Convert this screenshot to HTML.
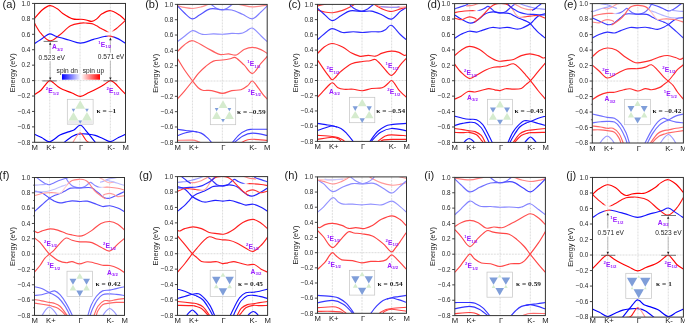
<!DOCTYPE html>
<html><head><meta charset="utf-8"><title>Band structures</title>
<style>html,body{margin:0;padding:0;background:#fff;overflow:hidden;} svg{display:block;will-change:transform;}</style>
</head><body>
<svg width="685" height="325" viewBox="0 0 685 325">
<defs><linearGradient id="cbar" x1="0" y1="0" x2="1" y2="0"><stop offset="0" stop-color="#0000ff"/><stop offset="0.5" stop-color="#ffffff"/><stop offset="1" stop-color="#ff0000"/></linearGradient><clipPath id="cp00"><rect x="34.60" y="3.45" width="90.90" height="138.85"/></clipPath><linearGradient id="g1" gradientUnits="userSpaceOnUse" x1="34.60" y1="0" x2="125.50" y2="0"><stop offset="0.0000" stop-color="#ff1414"/><stop offset="0.7917" stop-color="#ff1414"/><stop offset="0.8250" stop-color="#fff3f3"/><stop offset="0.8467" stop-color="#fff3f3"/><stop offset="0.8800" stop-color="#ff1414"/><stop offset="1.0000" stop-color="#ff1414"/></linearGradient><linearGradient id="g2" gradientUnits="userSpaceOnUse" x1="34.60" y1="0" x2="125.50" y2="0"><stop offset="0.0000" stop-color="#1414ff"/><stop offset="0.7833" stop-color="#1414ff"/><stop offset="0.8167" stop-color="#ff2c2c"/><stop offset="0.8500" stop-color="#ff2c2c"/><stop offset="0.8833" stop-color="#1414ff"/><stop offset="1.0000" stop-color="#1414ff"/></linearGradient><linearGradient id="g3" gradientUnits="userSpaceOnUse" x1="34.60" y1="0" x2="125.50" y2="0"><stop offset="0.0000" stop-color="#ff9595"/><stop offset="0.4833" stop-color="#ff9595"/><stop offset="0.5333" stop-color="#ff1414"/><stop offset="1.0000" stop-color="#ff1414"/></linearGradient><clipPath id="cp01"><rect x="177.50" y="4.40" width="89.70" height="137.90"/></clipPath><linearGradient id="g4" gradientUnits="userSpaceOnUse" x1="177.50" y1="0" x2="267.20" y2="0"><stop offset="0.0000" stop-color="#4d4dff"/><stop offset="0.4167" stop-color="#5656ff"/><stop offset="0.5833" stop-color="#7c7cff"/><stop offset="1.0000" stop-color="#7c7cff"/></linearGradient><clipPath id="cp02"><rect x="317.50" y="4.40" width="89.00" height="137.00"/></clipPath><clipPath id="cp03"><rect x="454.60" y="3.60" width="90.90" height="138.80"/></clipPath><linearGradient id="g5" gradientUnits="userSpaceOnUse" x1="454.60" y1="0" x2="545.50" y2="0"><stop offset="0.0000" stop-color="#ff2c2c"/><stop offset="0.2000" stop-color="#ff2c2c"/><stop offset="0.2417" stop-color="#ffffff"/><stop offset="0.2750" stop-color="#3838ff"/><stop offset="1.0000" stop-color="#3838ff"/></linearGradient><linearGradient id="g6" gradientUnits="userSpaceOnUse" x1="454.60" y1="0" x2="545.50" y2="0"><stop offset="0.0000" stop-color="#ff2c2c"/><stop offset="0.6000" stop-color="#ff2c2c"/><stop offset="0.6500" stop-color="#ffadad"/><stop offset="0.7333" stop-color="#ffadad"/><stop offset="0.7833" stop-color="#ff3838"/><stop offset="1.0000" stop-color="#ff3838"/></linearGradient><clipPath id="cp04"><rect x="592.30" y="3.60" width="91.10" height="139.40"/></clipPath><linearGradient id="g7" gradientUnits="userSpaceOnUse" x1="592.30" y1="0" x2="683.40" y2="0"><stop offset="0.0000" stop-color="#ff7272"/><stop offset="0.2167" stop-color="#ff7272"/><stop offset="0.2500" stop-color="#d9d9ff"/><stop offset="0.3000" stop-color="#6969ff"/><stop offset="1.0000" stop-color="#6969ff"/></linearGradient><linearGradient id="g8" gradientUnits="userSpaceOnUse" x1="592.30" y1="0" x2="683.40" y2="0"><stop offset="0.0000" stop-color="#ff5f5f"/><stop offset="0.6000" stop-color="#ff5f5f"/><stop offset="0.6500" stop-color="#ffc7c7"/><stop offset="0.7167" stop-color="#ffc7c7"/><stop offset="0.7667" stop-color="#ff7c7c"/><stop offset="1.0000" stop-color="#ff7c7c"/></linearGradient><clipPath id="cp10"><rect x="34.50" y="177.50" width="90.00" height="137.90"/></clipPath><linearGradient id="g9" gradientUnits="userSpaceOnUse" x1="34.50" y1="0" x2="124.50" y2="0"><stop offset="0.0000" stop-color="#8787ff"/><stop offset="0.7000" stop-color="#8787ff"/><stop offset="0.7500" stop-color="#e1e1ff"/><stop offset="0.7833" stop-color="#ff8f8f"/><stop offset="1.0000" stop-color="#ff8f8f"/></linearGradient><linearGradient id="g10" gradientUnits="userSpaceOnUse" x1="34.50" y1="0" x2="124.50" y2="0"><stop offset="0.0000" stop-color="#ff9696"/><stop offset="0.2333" stop-color="#ff9696"/><stop offset="0.2833" stop-color="#ffd2d2"/><stop offset="0.3500" stop-color="#ffd2d2"/><stop offset="0.4000" stop-color="#ff8080"/><stop offset="1.0000" stop-color="#ff8080"/></linearGradient><clipPath id="cp11"><rect x="177.50" y="176.60" width="90.10" height="138.80"/></clipPath><linearGradient id="g11" gradientUnits="userSpaceOnUse" x1="177.50" y1="0" x2="267.60" y2="0"><stop offset="0.0000" stop-color="#3838ff"/><stop offset="0.7250" stop-color="#3838ff"/><stop offset="0.7583" stop-color="#ffffff"/><stop offset="0.8000" stop-color="#ff2c2c"/><stop offset="1.0000" stop-color="#ff2c2c"/></linearGradient><linearGradient id="g12" gradientUnits="userSpaceOnUse" x1="177.50" y1="0" x2="267.60" y2="0"><stop offset="0.0000" stop-color="#ff3838"/><stop offset="0.2167" stop-color="#ff3838"/><stop offset="0.2667" stop-color="#ffadad"/><stop offset="0.3500" stop-color="#ffadad"/><stop offset="0.4000" stop-color="#ff2c2c"/><stop offset="1.0000" stop-color="#ff2c2c"/></linearGradient><clipPath id="cp12"><rect x="317.50" y="176.90" width="89.00" height="136.40"/></clipPath><clipPath id="cp13"><rect x="454.80" y="177.40" width="90.60" height="138.20"/></clipPath><linearGradient id="g13" gradientUnits="userSpaceOnUse" x1="454.80" y1="0" x2="545.40" y2="0"><stop offset="0.0000" stop-color="#6e6eff"/><stop offset="0.4167" stop-color="#6e6eff"/><stop offset="0.5833" stop-color="#4545ff"/><stop offset="1.0000" stop-color="#3b3bff"/></linearGradient><clipPath id="cp14"><rect x="592.50" y="177.45" width="90.90" height="139.65"/></clipPath><linearGradient id="g14" gradientUnits="userSpaceOnUse" x1="592.50" y1="0" x2="683.40" y2="0"><stop offset="0.0000" stop-color="#ff1414"/><stop offset="0.1200" stop-color="#ff1414"/><stop offset="0.1533" stop-color="#fff3f3"/><stop offset="0.1750" stop-color="#fff3f3"/><stop offset="0.2083" stop-color="#ff1414"/><stop offset="1.0000" stop-color="#ff1414"/></linearGradient><linearGradient id="g15" gradientUnits="userSpaceOnUse" x1="592.50" y1="0" x2="683.40" y2="0"><stop offset="0.0000" stop-color="#1414ff"/><stop offset="0.1167" stop-color="#1414ff"/><stop offset="0.1500" stop-color="#ff2c2c"/><stop offset="0.1833" stop-color="#ff2c2c"/><stop offset="0.2167" stop-color="#1414ff"/><stop offset="1.0000" stop-color="#1414ff"/></linearGradient><linearGradient id="g16" gradientUnits="userSpaceOnUse" x1="592.50" y1="0" x2="683.40" y2="0"><stop offset="0.0000" stop-color="#ff1414"/><stop offset="0.4667" stop-color="#ff1414"/><stop offset="0.5167" stop-color="#ff9595"/><stop offset="1.0000" stop-color="#ff9595"/></linearGradient></defs>
<line x1="49.75" y1="3.45" x2="49.75" y2="142.30" stroke="#d4d4d4" stroke-width="0.8" stroke-dasharray="2,1"/>
<line x1="80.05" y1="3.45" x2="80.05" y2="142.30" stroke="#d4d4d4" stroke-width="0.8" stroke-dasharray="2,1"/>
<line x1="110.35" y1="3.45" x2="110.35" y2="142.30" stroke="#d4d4d4" stroke-width="0.8" stroke-dasharray="2,1"/>
<line x1="34.60" y1="80.59" x2="125.50" y2="80.59" stroke="#d4d4d4" stroke-width="0.8" stroke-dasharray="2,1"/>
<line x1="192.45" y1="4.40" x2="192.45" y2="142.30" stroke="#d4d4d4" stroke-width="0.8" stroke-dasharray="2,1"/>
<line x1="222.35" y1="4.40" x2="222.35" y2="142.30" stroke="#d4d4d4" stroke-width="0.8" stroke-dasharray="2,1"/>
<line x1="252.25" y1="4.40" x2="252.25" y2="142.30" stroke="#d4d4d4" stroke-width="0.8" stroke-dasharray="2,1"/>
<line x1="177.50" y1="81.01" x2="267.20" y2="81.01" stroke="#d4d4d4" stroke-width="0.8" stroke-dasharray="2,1"/>
<line x1="332.33" y1="4.40" x2="332.33" y2="141.40" stroke="#d4d4d4" stroke-width="0.8" stroke-dasharray="2,1"/>
<line x1="362.00" y1="4.40" x2="362.00" y2="141.40" stroke="#d4d4d4" stroke-width="0.8" stroke-dasharray="2,1"/>
<line x1="391.67" y1="4.40" x2="391.67" y2="141.40" stroke="#d4d4d4" stroke-width="0.8" stroke-dasharray="2,1"/>
<line x1="317.50" y1="80.51" x2="406.50" y2="80.51" stroke="#d4d4d4" stroke-width="0.8" stroke-dasharray="2,1"/>
<line x1="469.75" y1="3.60" x2="469.75" y2="142.40" stroke="#d4d4d4" stroke-width="0.8" stroke-dasharray="2,1"/>
<line x1="500.05" y1="3.60" x2="500.05" y2="142.40" stroke="#d4d4d4" stroke-width="0.8" stroke-dasharray="2,1"/>
<line x1="530.35" y1="3.60" x2="530.35" y2="142.40" stroke="#d4d4d4" stroke-width="0.8" stroke-dasharray="2,1"/>
<line x1="454.60" y1="80.71" x2="545.50" y2="80.71" stroke="#d4d4d4" stroke-width="0.8" stroke-dasharray="2,1"/>
<line x1="607.48" y1="3.60" x2="607.48" y2="143.00" stroke="#d4d4d4" stroke-width="0.8" stroke-dasharray="2,1"/>
<line x1="637.85" y1="3.60" x2="637.85" y2="143.00" stroke="#d4d4d4" stroke-width="0.8" stroke-dasharray="2,1"/>
<line x1="668.22" y1="3.60" x2="668.22" y2="143.00" stroke="#d4d4d4" stroke-width="0.8" stroke-dasharray="2,1"/>
<line x1="592.30" y1="81.04" x2="683.40" y2="81.04" stroke="#d4d4d4" stroke-width="0.8" stroke-dasharray="2,1"/>
<line x1="49.50" y1="177.50" x2="49.50" y2="315.40" stroke="#d4d4d4" stroke-width="0.8" stroke-dasharray="2,1"/>
<line x1="79.50" y1="177.50" x2="79.50" y2="315.40" stroke="#d4d4d4" stroke-width="0.8" stroke-dasharray="2,1"/>
<line x1="109.50" y1="177.50" x2="109.50" y2="315.40" stroke="#d4d4d4" stroke-width="0.8" stroke-dasharray="2,1"/>
<line x1="34.50" y1="254.11" x2="124.50" y2="254.11" stroke="#d4d4d4" stroke-width="0.8" stroke-dasharray="2,1"/>
<line x1="192.52" y1="176.60" x2="192.52" y2="315.40" stroke="#d4d4d4" stroke-width="0.8" stroke-dasharray="2,1"/>
<line x1="222.55" y1="176.60" x2="222.55" y2="315.40" stroke="#d4d4d4" stroke-width="0.8" stroke-dasharray="2,1"/>
<line x1="252.58" y1="176.60" x2="252.58" y2="315.40" stroke="#d4d4d4" stroke-width="0.8" stroke-dasharray="2,1"/>
<line x1="177.50" y1="253.71" x2="267.60" y2="253.71" stroke="#d4d4d4" stroke-width="0.8" stroke-dasharray="2,1"/>
<line x1="332.33" y1="176.90" x2="332.33" y2="313.30" stroke="#d4d4d4" stroke-width="0.8" stroke-dasharray="2,1"/>
<line x1="362.00" y1="176.90" x2="362.00" y2="313.30" stroke="#d4d4d4" stroke-width="0.8" stroke-dasharray="2,1"/>
<line x1="391.67" y1="176.90" x2="391.67" y2="313.30" stroke="#d4d4d4" stroke-width="0.8" stroke-dasharray="2,1"/>
<line x1="317.50" y1="252.68" x2="406.50" y2="252.68" stroke="#d4d4d4" stroke-width="0.8" stroke-dasharray="2,1"/>
<line x1="469.90" y1="177.40" x2="469.90" y2="315.60" stroke="#d4d4d4" stroke-width="0.8" stroke-dasharray="2,1"/>
<line x1="500.10" y1="177.40" x2="500.10" y2="315.60" stroke="#d4d4d4" stroke-width="0.8" stroke-dasharray="2,1"/>
<line x1="530.30" y1="177.40" x2="530.30" y2="315.60" stroke="#d4d4d4" stroke-width="0.8" stroke-dasharray="2,1"/>
<line x1="454.80" y1="254.18" x2="545.40" y2="254.18" stroke="#d4d4d4" stroke-width="0.8" stroke-dasharray="2,1"/>
<line x1="607.65" y1="177.45" x2="607.65" y2="317.10" stroke="#d4d4d4" stroke-width="0.8" stroke-dasharray="2,1"/>
<line x1="637.95" y1="177.45" x2="637.95" y2="317.10" stroke="#d4d4d4" stroke-width="0.8" stroke-dasharray="2,1"/>
<line x1="668.25" y1="177.45" x2="668.25" y2="317.10" stroke="#d4d4d4" stroke-width="0.8" stroke-dasharray="2,1"/>
<line x1="592.50" y1="255.03" x2="683.40" y2="255.03" stroke="#d4d4d4" stroke-width="0.8" stroke-dasharray="2,1"/>
<g clip-path="url(#cp00)">
<path d="M34.60,18.41C35.86,17.01 39.60,12.13 42.18,10.01C44.75,7.89 47.53,5.88 50.05,5.69C52.58,5.49 55.20,7.56 57.33,8.85C59.45,10.14 60.20,11.73 62.78,13.40C65.35,15.07 69.75,17.90 72.78,18.88C75.81,19.85 78.74,19.08 80.96,19.26C83.18,19.44 84.29,19.60 86.11,19.96C87.93,20.32 90.10,21.60 91.87,21.42C93.63,21.24 95.02,20.14 96.72,18.88C98.41,17.62 99.75,15.23 102.02,13.86C104.29,12.50 107.45,10.51 110.35,10.70C113.25,10.89 116.92,13.40 119.44,15.02C121.96,16.64 124.49,19.52 125.50,20.42" fill="none" stroke="#ff0000" stroke-width="1.15" stroke-linecap="round" stroke-linejoin="round"/>
<path d="M34.60,23.43C35.66,25.10 38.39,30.55 40.96,33.46C43.54,36.36 46.95,40.59 50.05,40.86C53.16,41.13 56.19,37.58 59.60,35.08C63.01,32.57 66.95,27.81 70.51,25.82C74.07,23.83 78.36,23.58 80.96,23.12C83.56,22.66 84.29,22.95 86.11,23.04C87.93,23.13 90.10,23.20 91.87,23.66C93.63,24.12 95.15,25.01 96.72,25.82C98.28,26.63 99.11,27.45 101.26,28.52C103.41,29.59 107.07,32.22 109.59,32.22C112.12,32.22 113.76,30.49 116.41,28.52C119.06,26.55 123.98,21.77 125.50,20.42" fill="none" stroke="url(#g1)" stroke-width="1.15" stroke-linecap="round" stroke-linejoin="round"/>
<path d="M34.60,43.49C35.94,42.60 40.13,39.77 42.63,38.16C45.13,36.56 47.28,34.11 49.60,33.84C51.92,33.57 53.36,35.53 56.57,36.54C59.77,37.56 64.85,38.84 68.84,39.94C72.83,41.03 76.39,43.19 80.50,43.10C84.62,43.01 89.54,40.49 93.53,39.40C97.52,38.30 101.64,37.10 104.44,36.54C107.24,35.99 108.03,35.69 110.35,36.08C112.67,36.47 115.85,37.62 118.38,38.86C120.90,40.09 124.31,42.71 125.50,43.49" fill="none" stroke="url(#g2)" stroke-width="1.15" stroke-linecap="round" stroke-linejoin="round"/>
<path d="M34.60,94.55C35.66,93.83 39.07,91.98 40.96,90.23C42.86,88.48 44.50,85.67 45.96,84.06C47.43,82.45 48.49,80.78 49.75,80.59C51.01,80.40 52.15,81.87 53.54,82.90C54.93,83.93 56.54,85.67 58.08,86.76C59.62,87.85 60.46,88.42 62.78,89.46C65.10,90.50 69.07,91.85 72.02,93.01C74.97,94.17 77.68,96.48 80.50,96.40C83.33,96.33 86.03,93.96 88.99,92.55C91.94,91.13 95.68,89.27 98.23,87.92C100.78,86.57 102.27,85.67 104.29,84.45C106.31,83.22 108.58,80.78 110.35,80.59C112.12,80.40 113.38,82.07 114.90,83.29C116.41,84.51 117.67,86.12 119.44,87.92C121.21,89.72 124.49,93.06 125.50,94.09" fill="none" stroke="#ff0000" stroke-width="1.15" stroke-linecap="round" stroke-linejoin="round"/>
<path d="M34.60,134.35C35.76,134.87 39.04,136.22 41.57,137.44C44.09,138.66 46.69,142.08 49.75,141.68C52.81,141.28 56.79,136.68 59.90,135.05C63.01,133.42 66.04,132.73 68.38,131.89C70.73,131.04 72.35,130.92 73.99,129.96C75.63,128.99 77.22,126.89 78.23,126.10C79.24,125.32 79.44,125.28 80.05,125.25C80.66,125.23 80.76,124.89 81.87,125.95C82.98,127.00 84.97,129.47 86.72,131.58C88.46,133.69 90.78,136.68 92.32,138.60C93.86,140.51 95.35,142.33 95.96,143.07" fill="none" stroke="#0000ff" stroke-width="1.15" stroke-linecap="round" stroke-linejoin="round"/>
<path d="M63.39,143.07C64.90,141.91 69.70,137.67 72.48,136.13C75.25,134.59 77.27,134.14 80.05,133.81C82.83,133.49 86.62,133.94 89.14,134.20C91.66,134.46 92.93,134.65 95.20,135.36C97.47,136.06 100.25,137.39 102.78,138.44C105.30,139.50 107.72,141.85 110.35,141.68C112.98,141.52 116.01,138.66 118.53,137.44C121.06,136.22 124.34,134.87 125.50,134.35" fill="none" stroke="#0000ff" stroke-width="1.15" stroke-linecap="round" stroke-linejoin="round"/>
<path d="M71.72,144.61C72.15,143.84 73.41,141.46 74.29,139.99C75.18,138.51 76.24,136.84 77.02,135.74C77.80,134.65 78.48,133.90 78.99,133.43C79.49,132.95 79.70,132.89 80.05,132.89C80.40,132.89 80.61,132.95 81.11,133.43C81.62,133.90 82.30,134.65 83.08,135.74C83.86,136.84 84.92,138.89 85.81,139.99C86.69,141.08 87.32,141.85 88.38,142.30C89.44,142.75 91.03,142.56 92.17,142.69C93.31,142.81 94.70,143.01 95.20,143.07" fill="none" stroke="url(#g3)" stroke-width="1.15" stroke-linecap="round" stroke-linejoin="round"/>
</g>
<line x1="50.20" y1="43.50" x2="50.20" y2="53.80" stroke="#9a9a9a" stroke-width="0.6"/>
<line x1="50.20" y1="61.00" x2="50.20" y2="78.50" stroke="#9a9a9a" stroke-width="0.6"/>
<path d="M50.20,42.30 L49.00,44.86 L51.40,44.86Z" fill="#222"/>
<path d="M50.20,80.00 L49.00,77.44 L51.40,77.44Z" fill="#222"/>
<line x1="43.60" y1="41.40" x2="57.60" y2="41.40" stroke="#555" stroke-width="0.8"/>
<line x1="42.30" y1="80.90" x2="56.70" y2="80.90" stroke="#555" stroke-width="0.8"/>
<text x="52.00" y="49.20" font-size="6.70" font-weight="bold" fill="#9a1cff" font-family="'Liberation Sans', sans-serif">A</text>
<text x="56.94" y="50.80" font-size="4.29" font-weight="bold" fill="#9a1cff" font-family="'Liberation Sans', sans-serif">3/2</text>
<rect x="38.2" y="54.0" width="27.6" height="7.2" fill="#fff"/>
<text x="38.60" y="60.00" font-size="6.6" text-anchor="start" fill="#262626" font-family="'Liberation Sans', sans-serif" >0.523 eV</text>
<line x1="110.40" y1="39.50" x2="110.40" y2="53.20" stroke="#9a9a9a" stroke-width="0.6"/>
<line x1="110.40" y1="60.80" x2="110.40" y2="78.50" stroke="#9a9a9a" stroke-width="0.6"/>
<path d="M110.40,37.60 L109.20,40.16 L111.60,40.16Z" fill="#222"/>
<path d="M110.40,80.00 L109.20,77.44 L111.60,77.44Z" fill="#222"/>
<line x1="103.40" y1="80.80" x2="117.40" y2="80.80" stroke="#555" stroke-width="0.8"/>
<text x="98.20" y="43.80" font-size="4.29" font-weight="bold" fill="#9a1cff" font-family="'Liberation Sans', sans-serif">1</text>
<text x="100.68" y="46.80" font-size="6.70" font-weight="bold" fill="#9a1cff" font-family="'Liberation Sans', sans-serif">E</text>
<text x="105.25" y="48.40" font-size="4.29" font-weight="bold" fill="#9a1cff" font-family="'Liberation Sans', sans-serif">1/2</text>
<rect x="97.4" y="52.6" width="26.6" height="7.2" fill="#fff"/>
<text x="97.80" y="58.60" font-size="6.6" text-anchor="start" fill="#262626" font-family="'Liberation Sans', sans-serif" >0.571 eV</text>
<text x="56.60" y="72.60" font-size="6.6" text-anchor="start" fill="#262626" font-family="'Liberation Sans', sans-serif" >spin dn</text>
<text x="82.80" y="72.60" font-size="6.6" text-anchor="start" fill="#262626" font-family="'Liberation Sans', sans-serif" >spin up</text>
<rect x="62" y="74.2" width="38" height="5.5" fill="url(#cbar)"/>
<text x="45.80" y="90.40" font-size="4.29" font-weight="bold" fill="#9a1cff" font-family="'Liberation Sans', sans-serif">2</text>
<text x="48.28" y="93.40" font-size="6.70" font-weight="bold" fill="#9a1cff" font-family="'Liberation Sans', sans-serif">E</text>
<text x="52.85" y="95.00" font-size="4.29" font-weight="bold" fill="#9a1cff" font-family="'Liberation Sans', sans-serif">1/2</text>
<text x="106.40" y="90.40" font-size="4.29" font-weight="bold" fill="#9a1cff" font-family="'Liberation Sans', sans-serif">2</text>
<text x="108.88" y="93.40" font-size="6.70" font-weight="bold" fill="#9a1cff" font-family="'Liberation Sans', sans-serif">E</text>
<text x="113.45" y="95.00" font-size="4.29" font-weight="bold" fill="#9a1cff" font-family="'Liberation Sans', sans-serif">1/2</text>
<rect x="67.30" y="99.30" width="25.80" height="24.90" fill="#fff" stroke="#c4c4c4" stroke-width="0.7"/>
<rect x="67.65" y="120.60" width="25.10" height="3.25" fill="#ececec"/>
<path d="M82.00,120.56L86.95,111.99L91.90,120.56Z" fill="#d5ebce"/>
<path d="M85.15,108.87L75.25,108.87L80.20,100.30Z" fill="#d5ebce"/>
<path d="M73.45,111.99L78.40,120.56L68.50,120.56Z" fill="#d5ebce"/>
<path d="M78.40,120.56L82.00,120.56L80.20,123.68Z" fill="#7f9ed9"/>
<path d="M86.95,111.99L85.15,108.87L88.75,108.87Z" fill="#7f9ed9"/>
<path d="M75.25,108.87L73.45,111.99L71.65,108.87Z" fill="#7f9ed9"/>
<text transform="translate(96.60,112.70) scale(1.13,1)" font-size="6.5" font-weight="bold" letter-spacing="0.05" fill="#1e1e1e" font-family="'Liberation Serif', serif">κ = –1</text>
<g clip-path="url(#cp01)">
<path d="M176.00,5.55C176.35,5.60 176.73,5.55 178.10,5.86C179.47,6.16 181.81,6.95 184.23,7.39C186.64,7.82 189.78,8.54 192.60,8.46C195.42,8.38 198.68,7.54 201.12,6.93C203.56,6.32 205.71,5.33 207.25,4.78C208.80,4.23 209.87,3.83 210.39,3.63" fill="none" stroke="#ff8e8e" stroke-width="1.15" stroke-linecap="round" stroke-linejoin="round"/>
<path d="M238.79,4.40C239.42,4.51 240.27,4.67 242.53,5.09C244.80,5.51 248.31,6.93 252.40,6.93C256.49,6.93 264.33,5.51 267.05,5.09C269.77,4.67 268.42,4.51 268.69,4.40" fill="none" stroke="#ff8e8e" stroke-width="1.15" stroke-linecap="round" stroke-linejoin="round"/>
<path d="M208.90,2.87C209.37,3.19 210.49,3.90 211.74,4.78C212.98,5.66 214.70,7.29 216.37,8.15C218.04,9.02 219.96,9.99 221.75,9.99C223.55,9.99 225.46,9.02 227.13,8.15C228.80,7.29 230.57,5.66 231.77,4.78C232.96,3.90 233.89,3.19 234.31,2.87" fill="none" stroke="#7c7cff" stroke-width="1.15" stroke-linecap="round" stroke-linejoin="round"/>
<path d="M177.50,5.93C178.62,7.07 181.79,10.59 184.23,12.75C186.67,14.91 189.61,18.50 192.15,18.88C194.69,19.26 196.46,16.71 199.48,15.05C202.49,13.39 206.40,9.81 210.24,8.92C214.08,8.03 218.91,9.51 222.50,9.69C226.09,9.86 228.43,9.23 231.77,9.99C235.11,10.76 239.09,12.80 242.53,14.28C245.97,15.76 249.33,19.26 252.40,18.88C255.46,18.50 258.45,14.14 260.92,11.98C263.39,9.83 266.15,6.94 267.20,5.93" fill="none" stroke="url(#g4)" stroke-width="1.15" stroke-linecap="round" stroke-linejoin="round"/>
<path d="M177.50,41.63C178.62,40.78 181.71,38.33 184.23,36.50C186.74,34.67 189.98,31.18 192.60,30.68C195.22,30.18 198.01,32.87 199.93,33.51C201.84,34.15 201.87,34.44 204.11,34.51C206.35,34.57 210.32,33.95 213.38,33.90C216.44,33.84 219.43,34.28 222.50,34.20C225.56,34.13 228.70,33.56 231.77,33.44C234.83,33.31 238.47,33.81 240.89,33.44C243.30,33.07 244.35,32.11 246.27,31.21C248.19,30.32 249.96,27.32 252.40,28.07C254.84,28.83 258.45,33.47 260.92,35.73C263.39,37.99 266.15,40.65 267.20,41.63" fill="none" stroke="#8e8eff" stroke-width="1.15" stroke-linecap="round" stroke-linejoin="round"/>
<path d="M177.50,51.52C178.62,50.43 181.71,46.80 184.23,45.00C186.74,43.20 189.04,40.33 192.60,40.71C196.16,41.10 201.37,45.11 205.61,47.30C209.84,49.50 215.20,52.69 218.01,53.89C220.83,55.09 220.73,54.50 222.50,54.50C224.27,54.50 226.31,53.81 228.63,53.89C230.95,53.97 233.84,55.68 236.40,54.96C238.97,54.25 241.36,50.88 244.03,49.60C246.69,48.32 249.58,47.30 252.40,47.30C255.22,47.30 258.45,48.58 260.92,49.60C263.39,50.62 266.15,52.79 267.20,53.43" fill="none" stroke="#ff5f5f" stroke-width="1.15" stroke-linecap="round" stroke-linejoin="round"/>
<path d="M177.50,99.01C178.62,97.74 181.71,94.35 184.23,91.35C186.74,88.35 190.23,84.01 192.60,81.01C194.97,78.01 196.26,75.78 198.43,73.35C200.60,70.92 203.11,68.50 205.61,66.46C208.10,64.41 210.56,62.16 213.38,61.09C216.20,60.02 219.68,60.40 222.50,60.02C225.32,59.64 228.11,59.19 230.27,58.79C232.44,58.40 233.21,56.62 235.51,57.64C237.80,58.67 241.21,62.31 244.03,64.92C246.84,67.54 249.58,73.61 252.40,73.35C255.22,73.09 258.45,66.20 260.92,63.39C263.39,60.58 266.15,57.64 267.20,56.50" fill="none" stroke="#ff5656" stroke-width="1.15" stroke-linecap="round" stroke-linejoin="round"/>
<path d="M177.50,58.49C178.62,60.33 181.71,65.77 184.23,69.52C186.74,73.27 190.31,78.01 192.60,81.01C194.89,84.01 196.31,85.98 197.98,87.52C199.65,89.07 200.32,89.77 202.62,90.28C204.91,90.79 208.42,90.08 211.74,90.59C215.05,91.10 219.16,93.35 222.50,93.35C225.84,93.35 228.70,91.17 231.77,90.59C234.83,90.00 238.22,90.65 240.89,89.82C243.55,88.99 245.85,87.08 247.76,85.61C249.68,84.14 250.66,80.63 252.40,81.01C254.14,81.39 256.51,85.74 258.23,87.91C259.95,90.08 261.22,92.18 262.71,94.03C264.21,95.89 266.45,98.18 267.20,99.01" fill="none" stroke="#ff5656" stroke-width="1.15" stroke-linecap="round" stroke-linejoin="round"/>
<path d="M177.50,129.28C178.87,129.48 183.21,130.17 185.72,130.50C188.24,130.83 190.03,130.83 192.60,131.27C195.17,131.70 198.68,132.03 201.12,133.11C203.56,134.18 205.33,135.92 207.25,137.70C209.17,139.49 211.74,142.81 212.63,143.83" fill="none" stroke="#4343ff" stroke-width="1.15" stroke-linecap="round" stroke-linejoin="round"/>
<path d="M177.50,135.71C178.87,135.23 183.21,133.52 185.72,132.80C188.24,132.09 190.73,131.56 192.60,131.42C194.47,131.28 196.21,131.87 196.94,131.96" fill="none" stroke="#4343ff" stroke-width="1.15" stroke-linecap="round" stroke-linejoin="round"/>
<path d="M231.32,143.83C232.67,142.30 236.78,136.94 239.39,134.64C242.01,132.34 244.85,130.94 247.02,130.04C249.19,129.15 249.04,129.40 252.40,129.28C255.76,129.15 264.73,129.28 267.20,129.28" fill="none" stroke="#4343ff" stroke-width="1.15" stroke-linecap="round" stroke-linejoin="round"/>
<path d="M232.81,143.83C234.43,142.56 239.27,137.96 242.53,136.17C245.80,134.38 248.29,133.23 252.40,133.11C256.51,132.98 264.73,135.02 267.20,135.41" fill="none" stroke="#4343ff" stroke-width="1.15" stroke-linecap="round" stroke-linejoin="round"/>
<path d="M177.50,140.31C180.02,140.28 189.19,139.95 192.60,140.15C196.01,140.36 196.51,141.05 197.98,141.53C199.45,142.02 200.85,142.81 201.42,143.07" fill="none" stroke="#ff7c7c" stroke-width="1.15" stroke-linecap="round" stroke-linejoin="round"/>
<path d="M240.29,143.07C241.41,142.56 245.00,140.64 247.02,140.00C249.04,139.36 249.04,139.18 252.40,139.24C255.76,139.29 264.73,140.13 267.20,140.31" fill="none" stroke="#ff4d4d" stroke-width="1.15" stroke-linecap="round" stroke-linejoin="round"/>
</g>
<text x="247.30" y="63.40" font-size="4.29" font-weight="bold" fill="#9a1cff" font-family="'Liberation Sans', sans-serif">1</text>
<text x="249.78" y="66.40" font-size="6.70" font-weight="bold" fill="#9a1cff" font-family="'Liberation Sans', sans-serif">E</text>
<text x="254.35" y="68.00" font-size="4.29" font-weight="bold" fill="#9a1cff" font-family="'Liberation Sans', sans-serif">1/2</text>
<text x="248.00" y="91.60" font-size="4.29" font-weight="bold" fill="#9a1cff" font-family="'Liberation Sans', sans-serif">2</text>
<text x="250.48" y="94.60" font-size="6.70" font-weight="bold" fill="#9a1cff" font-family="'Liberation Sans', sans-serif">E</text>
<text x="255.05" y="96.20" font-size="4.29" font-weight="bold" fill="#9a1cff" font-family="'Liberation Sans', sans-serif">1/2</text>
<rect x="210.30" y="98.10" width="25.40" height="26.60" fill="#fff" stroke="#c4c4c4" stroke-width="0.7"/>
<path d="M224.90,119.09L229.38,111.34L233.85,119.09Z" fill="#d5ebce"/>
<path d="M227.47,108.05L218.53,108.05L223.00,100.30Z" fill="#d5ebce"/>
<path d="M216.62,111.34L221.10,119.09L212.15,119.09Z" fill="#d5ebce"/>
<path d="M221.10,119.09L224.90,119.09L223.00,122.38Z" fill="#7f9ed9"/>
<path d="M229.38,111.34L227.47,108.05L231.28,108.05Z" fill="#7f9ed9"/>
<path d="M218.53,108.05L216.62,111.34L214.72,108.05Z" fill="#7f9ed9"/>
<text transform="translate(236.90,113.60) scale(1.13,1)" font-size="6.5" font-weight="bold" letter-spacing="0.05" fill="#1e1e1e" font-family="'Liberation Serif', serif">κ = –0.59</text>
<g clip-path="url(#cp02)">
<path d="M317.50,9.96C318.61,10.29 321.65,11.48 324.18,11.93C326.70,12.39 329.56,12.95 332.63,12.70C335.70,12.44 339.53,11.43 342.57,10.41C345.61,9.40 348.85,7.67 350.88,6.61C352.90,5.54 354.09,4.45 354.73,4.02" fill="none" stroke="#ff3838" stroke-width="1.15" stroke-linecap="round" stroke-linejoin="round"/>
<path d="M314.53,6.30C315.08,6.23 316.44,6.10 317.80,5.85C319.16,5.59 321.26,5.15 322.69,4.78C324.13,4.41 325.78,3.83 326.40,3.64" fill="none" stroke="#ff3838" stroke-width="1.15" stroke-linecap="round" stroke-linejoin="round"/>
<path d="M317.50,8.13C318.61,9.14 321.73,12.14 324.18,14.22C326.62,16.30 329.39,20.36 332.19,20.61C334.98,20.87 337.95,17.36 340.94,15.74C343.93,14.12 346.57,11.58 350.13,10.87C353.69,10.16 358.74,11.43 362.30,11.48C365.86,11.53 368.18,10.59 371.49,11.17C374.81,11.76 378.86,13.66 382.17,14.98C385.49,16.30 388.30,19.72 391.37,19.09C394.44,18.46 398.05,13.13 400.57,11.17C403.09,9.22 405.51,8.00 406.50,7.37" fill="none" stroke="#2020ff" stroke-width="1.15" stroke-linecap="round" stroke-linejoin="round"/>
<path d="M349.39,3.64C349.76,4.13 350.36,5.55 351.62,6.61C352.88,7.66 355.30,9.20 356.96,9.96C358.61,10.72 359.77,11.35 361.56,11.17C363.34,11.00 365.73,9.96 367.64,8.89C369.54,7.83 371.81,5.66 372.98,4.78C374.14,3.91 374.34,3.83 374.61,3.64" fill="none" stroke="#2c2cff" stroke-width="1.15" stroke-linecap="round" stroke-linejoin="round"/>
<path d="M373.12,3.64C373.50,3.88 373.84,4.21 375.35,5.09C376.86,5.96 379.50,7.83 382.17,8.89C384.84,9.96 388.30,11.48 391.37,11.48C394.44,11.48 398.05,9.58 400.57,8.89C403.09,8.21 405.51,7.62 406.50,7.37" fill="none" stroke="#ff2c2c" stroke-width="1.15" stroke-linecap="round" stroke-linejoin="round"/>
<path d="M376.09,4.40C376.59,4.72 376.51,5.81 379.06,6.30C381.60,6.80 386.80,7.27 391.37,7.37C395.94,7.47 403.98,6.99 406.50,6.91" fill="none" stroke="#ff9595" stroke-width="1.15" stroke-linecap="round" stroke-linejoin="round"/>
<path d="M381.28,6.68C382.27,6.75 384.99,6.94 387.22,7.06C389.44,7.19 392.66,7.51 394.63,7.44C396.61,7.38 398.34,6.81 399.08,6.68" fill="none" stroke="#9595ff" stroke-width="1.15" stroke-linecap="round" stroke-linejoin="round"/>
<path d="M317.50,39.87C318.61,38.89 321.73,35.87 324.18,34.01C326.62,32.14 329.12,28.93 332.19,28.68C335.25,28.43 339.06,31.98 342.57,32.48C346.08,32.99 349.96,31.72 353.25,31.72C356.54,31.72 359.26,32.48 362.30,32.48C365.34,32.48 368.43,31.85 371.49,31.72C374.56,31.60 378.32,32.09 380.69,31.72C383.06,31.36 383.95,30.58 385.73,29.52C387.51,28.45 388.90,24.46 391.37,25.33C393.84,26.21 398.05,32.35 400.57,34.77C403.09,37.19 405.51,39.02 406.50,39.87" fill="none" stroke="#2c2cff" stroke-width="1.15" stroke-linecap="round" stroke-linejoin="round"/>
<path d="M317.50,53.57C318.61,52.48 321.73,48.70 324.18,47.02C326.62,45.35 329.12,43.52 332.19,43.52C335.25,43.52 339.33,45.42 342.57,47.02C345.81,48.62 348.82,51.59 351.62,53.11C354.41,54.63 357.55,55.65 359.33,56.16C361.11,56.66 360.79,56.28 362.30,56.16C363.80,56.03 366.20,55.39 368.38,55.39C370.55,55.39 373.05,56.54 375.35,56.16C377.65,55.77 379.50,53.95 382.17,53.11C384.84,52.27 388.58,51.26 391.37,51.13C394.16,51.01 396.78,51.64 398.94,52.35C401.09,53.06 403.01,55.01 404.27,55.39C405.54,55.77 406.13,54.76 406.50,54.63" fill="none" stroke="#ff2020" stroke-width="1.15" stroke-linecap="round" stroke-linejoin="round"/>
<path d="M317.50,59.96C318.61,61.61 322.32,67.19 324.18,69.86C326.03,72.52 327.29,74.30 328.62,75.94C329.96,77.59 330.95,79.62 332.19,79.75C333.42,79.88 334.58,78.10 336.04,76.71C337.50,75.31 338.34,73.53 340.94,71.38C343.53,69.22 348.06,65.42 351.62,63.77C355.18,62.12 359.23,61.99 362.30,61.48C365.36,60.98 367.83,61.04 370.01,60.72C372.19,60.41 373.32,58.69 375.35,59.58C377.38,60.47 380.07,63.83 382.17,66.05C384.27,68.27 386.43,71.33 387.96,72.90C389.49,74.47 390.13,75.61 391.37,75.49C392.61,75.36 393.84,73.97 395.38,72.14C396.91,70.31 398.71,66.86 400.57,64.53C402.42,62.19 405.51,59.20 406.50,58.13" fill="none" stroke="#ff2020" stroke-width="1.15" stroke-linecap="round" stroke-linejoin="round"/>
<path d="M317.50,97.33C318.61,96.11 322.20,92.13 324.18,90.03C326.15,87.92 328.03,85.92 329.37,84.70C330.70,83.48 331.32,82.78 332.19,82.72C333.05,82.65 333.59,83.48 334.56,84.32C335.52,85.15 336.39,86.92 337.97,87.74C339.55,88.57 341.51,89.01 344.05,89.26C346.60,89.52 350.21,89.01 353.25,89.26C356.29,89.52 359.26,90.91 362.30,90.79C365.34,90.66 368.18,89.01 371.49,88.50C374.81,88.00 379.43,88.57 382.17,87.74C384.92,86.92 386.43,84.76 387.96,83.56C389.49,82.35 390.26,80.51 391.37,80.51C392.48,80.51 393.37,81.97 394.63,83.56C395.89,85.14 396.96,87.73 398.94,90.03C400.91,92.32 405.24,96.11 406.50,97.33" fill="none" stroke="#ff2020" stroke-width="1.15" stroke-linecap="round" stroke-linejoin="round"/>
<path d="M317.50,123.44C318.86,123.64 323.21,124.28 325.66,124.66C328.11,125.04 329.64,125.09 332.19,125.72C334.73,126.36 338.46,127.12 340.94,128.46C343.41,129.81 345.11,131.81 347.02,133.79C348.92,135.77 351.22,138.81 352.36,140.33C353.50,141.86 353.59,142.49 353.84,142.92" fill="none" stroke="#1414ff" stroke-width="1.15" stroke-linecap="round" stroke-linejoin="round"/>
<path d="M317.50,130.44C318.86,129.98 323.21,128.44 325.66,127.70C328.11,126.96 330.33,126.15 332.19,126.03C334.04,125.90 336.02,126.79 336.78,126.94" fill="none" stroke="#1414ff" stroke-width="1.15" stroke-linecap="round" stroke-linejoin="round"/>
<path d="M369.42,142.92C369.64,142.49 369.39,142.24 370.75,140.33C372.11,138.43 375.15,133.86 377.57,131.51C380.00,129.15 382.99,127.32 385.29,126.18C387.59,125.04 387.83,125.11 391.37,124.66C394.91,124.20 403.98,123.64 406.50,123.44" fill="none" stroke="#1414ff" stroke-width="1.15" stroke-linecap="round" stroke-linejoin="round"/>
<path d="M370.90,142.92C371.12,142.49 370.60,142.11 372.24,140.33C373.87,138.56 377.50,134.25 380.69,132.27C383.88,130.29 387.07,128.71 391.37,128.46C395.67,128.21 403.98,130.36 406.50,130.74" fill="none" stroke="#1414ff" stroke-width="1.15" stroke-linecap="round" stroke-linejoin="round"/>
<path d="M317.50,135.31C319.95,135.51 328.77,136.15 332.19,136.53C335.60,136.91 336.12,136.96 337.97,137.59C339.82,138.23 342.15,139.57 343.31,140.33C344.47,141.10 344.67,141.86 344.94,142.16" fill="none" stroke="#ff2020" stroke-width="1.15" stroke-linecap="round" stroke-linejoin="round"/>
<path d="M317.50,139.42C319.95,139.07 328.53,137.29 332.19,137.29C335.84,137.29 337.95,138.61 339.45,139.42C340.96,140.23 340.94,141.70 341.23,142.16" fill="none" stroke="#ff2020" stroke-width="1.15" stroke-linecap="round" stroke-linejoin="round"/>
<path d="M377.57,142.16C377.82,141.86 377.77,141.35 379.06,140.33C380.34,139.32 383.24,136.99 385.29,136.07C387.34,135.16 387.83,134.91 391.37,134.85C394.91,134.80 403.98,135.62 406.50,135.77" fill="none" stroke="#ff2020" stroke-width="1.15" stroke-linecap="round" stroke-linejoin="round"/>
<path d="M380.54,142.16C380.81,141.86 380.37,140.79 382.17,140.33C383.98,139.88 387.32,139.57 391.37,139.42C395.42,139.27 403.98,139.42 406.50,139.42" fill="none" stroke="#ff2020" stroke-width="1.15" stroke-linecap="round" stroke-linejoin="round"/>
</g>
<text x="326.50" y="69.40" font-size="4.29" font-weight="bold" fill="#9a1cff" font-family="'Liberation Sans', sans-serif">2</text>
<text x="328.98" y="72.40" font-size="6.70" font-weight="bold" fill="#9a1cff" font-family="'Liberation Sans', sans-serif">E</text>
<text x="333.55" y="74.00" font-size="4.29" font-weight="bold" fill="#9a1cff" font-family="'Liberation Sans', sans-serif">1/2</text>
<text x="385.40" y="65.40" font-size="4.29" font-weight="bold" fill="#9a1cff" font-family="'Liberation Sans', sans-serif">1</text>
<text x="387.88" y="68.40" font-size="6.70" font-weight="bold" fill="#9a1cff" font-family="'Liberation Sans', sans-serif">E</text>
<text x="392.45" y="70.00" font-size="4.29" font-weight="bold" fill="#9a1cff" font-family="'Liberation Sans', sans-serif">1/2</text>
<text x="329.00" y="93.80" font-size="6.70" font-weight="bold" fill="#9a1cff" font-family="'Liberation Sans', sans-serif">A</text>
<text x="333.94" y="95.40" font-size="4.29" font-weight="bold" fill="#9a1cff" font-family="'Liberation Sans', sans-serif">3/2</text>
<text x="387.30" y="91.00" font-size="4.29" font-weight="bold" fill="#9a1cff" font-family="'Liberation Sans', sans-serif">2</text>
<text x="389.78" y="94.00" font-size="6.70" font-weight="bold" fill="#9a1cff" font-family="'Liberation Sans', sans-serif">E</text>
<text x="394.35" y="95.60" font-size="4.29" font-weight="bold" fill="#9a1cff" font-family="'Liberation Sans', sans-serif">1/2</text>
<rect x="349.60" y="97.30" width="25.20" height="25.40" fill="#fff" stroke="#c4c4c4" stroke-width="0.7"/>
<path d="M364.85,118.37L369.18,110.88L373.50,118.37Z" fill="#d5ebce"/>
<path d="M366.53,106.29L357.88,106.29L362.20,98.80Z" fill="#d5ebce"/>
<path d="M355.23,110.88L359.55,118.37L350.90,118.37Z" fill="#d5ebce"/>
<path d="M359.55,118.37L364.85,118.37L362.20,122.96Z" fill="#7f9ed9"/>
<path d="M369.18,110.88L366.53,106.29L371.83,106.29Z" fill="#7f9ed9"/>
<path d="M357.88,106.29L355.23,110.88L352.58,106.29Z" fill="#7f9ed9"/>
<text transform="translate(376.30,113.30) scale(1.13,1)" font-size="6.5" font-weight="bold" letter-spacing="0.05" fill="#1e1e1e" font-family="'Liberation Serif', serif">κ = –0.54</text>
<g clip-path="url(#cp03)">
<path d="M454.60,8.92C455.69,8.54 459.25,7.22 461.11,6.61C462.98,5.99 464.65,5.68 465.81,5.22C466.97,4.76 467.40,4.26 468.08,3.83C468.77,3.41 469.60,2.87 469.90,2.67" fill="none" stroke="#4343ff" stroke-width="1.15" stroke-linecap="round" stroke-linejoin="round"/>
<path d="M466.72,5.99C467.33,5.94 469.27,5.81 470.36,5.68C471.44,5.55 472.30,5.45 473.23,5.22C474.17,4.99 474.90,4.64 475.96,4.29C477.02,3.95 478.99,3.33 479.60,3.14" fill="none" stroke="#ff7e7e" stroke-width="1.15" stroke-linecap="round" stroke-linejoin="round"/>
<path d="M454.60,12.62C455.69,12.44 458.64,11.85 461.11,11.54C463.59,11.23 467.12,10.93 469.45,10.77C471.77,10.62 473.36,10.69 475.05,10.62C476.74,10.54 478.06,10.67 479.60,10.31C481.14,9.95 482.91,9.11 484.29,8.46C485.68,7.80 486.84,6.41 487.93,6.38C489.02,6.34 489.72,7.37 490.81,8.23C491.89,9.09 492.93,10.73 494.44,11.54C495.96,12.35 498.03,13.06 499.90,13.08C501.77,13.11 504.06,12.47 505.66,11.70C507.25,10.93 508.36,9.38 509.44,8.46C510.53,7.53 511.26,6.84 512.17,6.14C513.08,5.45 513.96,4.82 514.90,4.29C515.83,3.77 517.30,3.20 517.78,2.98" fill="none" stroke="url(#g5)" stroke-width="1.15" stroke-linecap="round" stroke-linejoin="round"/>
<path d="M454.60,14.94C455.69,15.63 458.64,17.75 461.11,19.10C463.59,20.45 467.12,22.57 469.45,23.03C471.77,23.49 473.36,22.61 475.05,21.88C476.74,21.14 478.06,19.87 479.60,18.64C481.14,17.40 482.75,15.50 484.29,14.47C485.83,13.44 487.30,12.90 488.84,12.47C490.38,12.03 491.69,11.81 493.54,11.85C495.38,11.89 497.88,12.49 499.90,12.70C501.92,12.90 503.91,12.90 505.66,13.08C507.40,13.26 508.96,13.32 510.35,13.78C511.74,14.24 512.75,15.21 513.99,15.86C515.23,16.52 516.39,17.09 517.78,17.71C519.16,18.33 520.78,18.92 522.32,19.56C523.86,20.20 525.68,20.86 527.02,21.57C528.36,22.27 529.11,22.69 530.35,23.80C531.59,24.92 533.13,26.84 534.44,28.28C535.75,29.71 536.38,30.76 538.23,32.44C540.07,34.12 544.29,37.39 545.50,38.38" fill="none" stroke="#2020ff" stroke-width="1.15" stroke-linecap="round" stroke-linejoin="round"/>
<path d="M454.60,38.38C455.69,37.70 458.69,35.49 461.11,34.29C463.54,33.10 466.57,31.57 469.14,31.21C471.72,30.85 474.30,32.31 476.57,32.13C478.84,31.95 480.20,30.90 482.78,30.13C485.35,29.36 489.19,27.84 492.02,27.50C494.85,27.17 497.17,28.15 499.75,28.12C502.32,28.10 504.39,27.20 507.47,27.35C510.55,27.50 515.43,29.09 518.23,29.05C521.03,29.01 522.27,27.99 524.29,27.12C526.31,26.24 528.66,25.06 530.35,23.80C532.04,22.54 533.15,20.81 534.44,19.56C535.73,18.32 536.86,17.17 538.08,16.32C539.29,15.48 540.48,14.94 541.71,14.47C542.95,14.01 544.87,13.70 545.50,13.55" fill="none" stroke="#2020ff" stroke-width="1.15" stroke-linecap="round" stroke-linejoin="round"/>
<path d="M454.60,18.17C455.69,18.43 459.25,19.74 461.11,19.72C462.98,19.69 464.42,18.48 465.81,18.02C467.20,17.56 468.06,16.97 469.45,16.94C470.84,16.91 473.03,17.52 474.14,17.87C475.25,18.21 475.78,18.83 476.11,19.02" fill="none" stroke="#ff3838" stroke-width="1.15" stroke-linecap="round" stroke-linejoin="round"/>
<path d="M474.30,22.11C475.18,21.45 477.78,19.75 479.60,18.17C481.42,16.59 483.33,14.50 485.20,12.62C487.07,10.75 489.12,8.33 490.81,6.92C492.50,5.50 493.84,4.73 495.35,4.14C496.87,3.55 498.18,3.42 499.90,3.37C501.62,3.32 504.06,3.45 505.66,3.83C507.25,4.22 508.36,4.91 509.44,5.68C510.53,6.45 511.11,6.99 512.17,8.46C513.23,9.92 514.54,13.01 515.81,14.47C517.07,15.94 517.88,16.91 519.75,17.25C521.61,17.58 524.74,16.73 527.02,16.48C529.29,16.22 531.54,15.86 533.38,15.71C535.22,15.55 536.69,15.37 538.08,15.55C539.47,15.73 540.48,16.35 541.71,16.79C542.95,17.22 544.87,17.94 545.50,18.17" fill="none" stroke="url(#g6)" stroke-width="1.15" stroke-linecap="round" stroke-linejoin="round"/>
<path d="M513.99,3.83C514.62,4.14 516.39,4.99 517.78,5.68C519.16,6.38 520.78,7.38 522.32,8.00C523.86,8.61 525.63,9.10 527.02,9.38C528.41,9.67 529.59,9.65 530.65,9.69C531.71,9.73 532.93,9.63 533.38,9.61" fill="none" stroke="#ff9595" stroke-width="1.15" stroke-linecap="round" stroke-linejoin="round"/>
<path d="M519.59,3.37C520.35,3.68 522.60,4.68 524.14,5.22C525.68,5.76 527.45,6.22 528.84,6.61C530.22,6.99 531.23,7.22 532.47,7.53C533.71,7.84 534.87,8.23 536.26,8.46C537.65,8.69 539.26,8.77 540.80,8.92C542.34,9.07 544.72,9.31 545.50,9.38" fill="none" stroke="#9595ff" stroke-width="1.15" stroke-linecap="round" stroke-linejoin="round"/>
<path d="M508.38,4.76C508.86,5.22 510.02,6.61 511.26,7.53C512.50,8.46 514.27,9.46 515.81,10.31C517.35,11.16 518.79,12.01 520.50,12.62C522.22,13.24 524.42,13.73 526.11,14.01C527.80,14.29 528.96,14.24 530.65,14.32C532.34,14.40 534.42,14.37 536.26,14.47C538.10,14.58 540.17,14.86 541.71,14.94C543.25,15.01 544.87,14.94 545.50,14.94" fill="none" stroke="#2c2cff" stroke-width="1.15" stroke-linecap="round" stroke-linejoin="round"/>
<path d="M532.62,10.15C533.08,9.87 534.44,9.13 535.35,8.46C536.26,7.79 537.02,6.99 538.08,6.14C539.14,5.30 540.78,4.11 541.71,3.37C542.65,2.62 543.35,1.95 543.68,1.67" fill="none" stroke="#2c2cff" stroke-width="1.15" stroke-linecap="round" stroke-linejoin="round"/>
<path d="M454.60,55.65C455.69,54.75 458.69,51.79 461.11,50.25C463.54,48.71 466.06,46.53 469.14,46.40C472.22,46.27 476.32,47.81 479.60,49.48C482.88,51.15 485.76,54.49 488.84,56.42C491.92,58.35 495.25,60.35 498.08,61.05C500.91,61.74 503.23,60.84 505.81,60.59C508.38,60.33 510.96,60.33 513.53,59.51C516.11,58.68 518.56,56.60 521.26,55.65C523.96,54.70 526.92,53.80 529.74,53.80C532.57,53.80 536.03,54.96 538.23,55.65C540.42,56.34 541.71,57.71 542.92,57.96C544.14,58.22 545.07,57.32 545.50,57.19" fill="none" stroke="#ff2020" stroke-width="1.15" stroke-linecap="round" stroke-linejoin="round"/>
<path d="M454.60,64.21C455.69,65.55 458.69,69.86 461.11,72.23C463.54,74.59 466.57,77.88 469.14,78.40C471.72,78.91 473.79,76.73 476.57,75.31C479.35,73.90 482.98,71.25 485.81,69.92C488.64,68.58 491.21,67.81 493.54,67.29C495.86,66.78 497.70,67.04 499.75,66.83C501.79,66.63 503.51,66.57 505.81,66.06C508.10,65.55 511.21,63.36 513.53,63.75C515.86,64.13 517.67,66.45 519.75,68.37C521.82,70.30 524.16,73.26 525.96,75.31C527.75,77.37 528.46,78.14 530.50,80.71C532.55,83.28 535.73,87.65 538.23,90.74C540.73,93.82 544.29,97.80 545.50,99.22" fill="none" stroke="#ff2020" stroke-width="1.15" stroke-linecap="round" stroke-linejoin="round"/>
<path d="M454.60,99.22C455.69,98.70 458.87,97.42 461.11,96.13C463.36,94.85 465.76,92.20 468.08,91.51C470.41,90.81 472.60,92.23 475.05,91.97C477.50,91.71 480.48,90.52 482.78,89.96C485.08,89.41 486.84,88.68 488.84,88.65C490.83,88.63 492.88,89.49 494.75,89.81C496.62,90.13 498.21,90.76 500.05,90.58C501.89,90.40 503.56,88.96 505.81,88.73C508.05,88.50 510.96,89.24 513.53,89.19C516.11,89.14 519.19,89.19 521.26,88.42C523.33,87.65 524.42,85.85 525.96,84.57C527.50,83.28 528.46,82.90 530.50,80.71C532.55,78.53 535.73,74.41 538.23,71.46C540.73,68.50 544.29,64.39 545.50,62.98" fill="none" stroke="#ff2020" stroke-width="1.15" stroke-linecap="round" stroke-linejoin="round"/>
<path d="M454.60,116.18C455.94,116.52 460.21,117.67 462.63,118.19C465.05,118.70 466.82,119.01 469.14,119.27C471.47,119.52 474.30,118.83 476.57,119.73C478.84,120.63 480.86,122.30 482.78,124.66C484.70,127.03 486.54,131.04 488.08,133.92C489.62,136.80 491.24,140.27 492.02,141.94C492.80,143.61 492.65,143.61 492.78,143.94" fill="none" stroke="#1414ff" stroke-width="1.15" stroke-linecap="round" stroke-linejoin="round"/>
<path d="M454.60,125.44C455.94,125.10 460.21,123.94 462.63,123.43C465.05,122.92 467.07,122.45 469.14,122.35C471.21,122.25 473.03,121.91 475.05,122.81C477.07,123.71 479.47,125.64 481.26,127.75C483.06,129.86 484.55,133.10 485.81,135.46C487.07,137.82 488.23,140.52 488.84,141.94C489.44,143.35 489.34,143.61 489.44,143.94" fill="none" stroke="#1414ff" stroke-width="1.15" stroke-linecap="round" stroke-linejoin="round"/>
<path d="M454.60,128.52C455.94,128.70 460.21,129.21 462.63,129.60C465.05,129.99 467.07,130.50 469.14,130.83C471.21,131.17 473.03,130.83 475.05,131.60C477.07,132.38 479.60,133.74 481.26,135.46C482.93,137.18 484.32,140.52 485.05,141.94C485.78,143.35 485.56,143.61 485.66,143.94" fill="none" stroke="#ff2020" stroke-width="1.15" stroke-linecap="round" stroke-linejoin="round"/>
<path d="M454.60,132.38C455.94,132.43 460.21,132.68 462.63,132.68C465.05,132.68 466.82,132.04 469.14,132.38C471.47,132.71 474.55,133.40 476.57,134.69C478.59,135.97 480.23,138.88 481.26,140.09C482.30,141.29 482.43,141.29 482.78,141.94C483.13,142.58 483.28,143.61 483.38,143.94" fill="none" stroke="#ff2020" stroke-width="1.15" stroke-linecap="round" stroke-linejoin="round"/>
<path d="M462.93,143.94C463.44,143.33 464.93,141.14 465.96,140.24C467.00,139.34 468.08,138.54 469.14,138.54C470.20,138.54 471.27,139.34 472.33,140.24C473.39,141.14 474.98,143.33 475.51,143.94" fill="none" stroke="#1414ff" stroke-width="1.15" stroke-linecap="round" stroke-linejoin="round"/>
<path d="M507.62,143.94C507.73,143.61 507.37,143.87 508.23,141.94C509.09,140.01 511.11,135.13 512.78,132.38C514.44,129.63 516.31,127.36 518.23,125.44C520.15,123.51 522.24,121.50 524.29,120.81C526.34,120.11 528.18,120.83 530.50,121.27C532.82,121.71 535.73,122.74 538.23,123.43C540.73,124.12 544.29,125.10 545.50,125.44" fill="none" stroke="#1414ff" stroke-width="1.15" stroke-linecap="round" stroke-linejoin="round"/>
<path d="M509.59,143.94C509.70,143.61 509.42,143.48 510.20,141.94C510.98,140.40 512.70,137.18 514.29,134.69C515.88,132.20 517.80,128.91 519.75,126.98C521.69,125.05 524.16,124.02 525.96,123.12C527.75,122.22 528.46,122.40 530.50,121.58C532.55,120.76 535.73,119.09 538.23,118.19C540.73,117.29 544.29,116.52 545.50,116.18" fill="none" stroke="#1414ff" stroke-width="1.15" stroke-linecap="round" stroke-linejoin="round"/>
<path d="M512.93,143.94C513.03,143.61 512.40,143.61 513.53,141.94C514.67,140.27 517.67,135.77 519.75,133.92C521.82,132.07 524.16,131.48 525.96,130.83C527.75,130.19 527.24,130.45 530.50,130.06C533.76,129.68 543.00,128.78 545.50,128.52" fill="none" stroke="#ff2020" stroke-width="1.15" stroke-linecap="round" stroke-linejoin="round"/>
<path d="M514.44,143.94C514.54,143.61 513.91,143.35 515.05,141.94C516.18,140.52 519.19,136.93 521.26,135.46C523.33,133.99 525.93,133.61 527.47,133.15C529.01,132.68 527.50,132.81 530.50,132.68C533.51,132.56 543.00,132.43 545.50,132.38" fill="none" stroke="#ff2020" stroke-width="1.15" stroke-linecap="round" stroke-linejoin="round"/>
<path d="M523.53,143.94C524.16,143.20 526.16,140.63 527.32,139.47C528.48,138.31 529.44,137.00 530.50,137.00C531.56,137.00 532.52,138.31 533.68,139.47C534.84,140.63 536.84,143.20 537.47,143.94" fill="none" stroke="#1414ff" stroke-width="1.15" stroke-linecap="round" stroke-linejoin="round"/>
</g>
<text x="464.00" y="72.40" font-size="4.29" font-weight="bold" fill="#9a1cff" font-family="'Liberation Sans', sans-serif">2</text>
<text x="466.48" y="75.40" font-size="6.70" font-weight="bold" fill="#9a1cff" font-family="'Liberation Sans', sans-serif">E</text>
<text x="471.05" y="77.00" font-size="4.29" font-weight="bold" fill="#9a1cff" font-family="'Liberation Sans', sans-serif">1/2</text>
<text x="467.00" y="99.60" font-size="6.70" font-weight="bold" fill="#9a1cff" font-family="'Liberation Sans', sans-serif">A</text>
<text x="471.94" y="101.20" font-size="4.29" font-weight="bold" fill="#9a1cff" font-family="'Liberation Sans', sans-serif">3/2</text>
<rect x="487.60" y="99.30" width="24.80" height="25.50" fill="#fff" stroke="#c4c4c4" stroke-width="0.7"/>
<path d="M503.00,119.64L507.02,112.67L511.05,119.64Z" fill="#d5ebce"/>
<path d="M504.02,107.47L495.98,107.47L500.00,100.50Z" fill="#d5ebce"/>
<path d="M492.98,112.67L497.00,119.64L488.95,119.64Z" fill="#d5ebce"/>
<path d="M497.00,119.64L503.00,119.64L500.00,124.84Z" fill="#7f9ed9"/>
<path d="M507.02,112.67L504.02,107.47L510.02,107.47Z" fill="#7f9ed9"/>
<path d="M495.98,107.47L492.98,112.67L489.98,107.47Z" fill="#7f9ed9"/>
<text transform="translate(514.50,113.10) scale(1.13,1)" font-size="6.5" font-weight="bold" letter-spacing="0.05" fill="#1e1e1e" font-family="'Liberation Serif', serif">κ = –0.45</text>
<g clip-path="url(#cp04)">
<path d="M596.85,2.83C597.23,2.92 597.99,3.12 599.13,3.37C600.27,3.61 602.30,4.06 603.69,4.30C605.08,4.53 606.24,4.45 607.48,4.76C608.72,5.07 610.06,5.69 611.13,6.16C612.19,6.62 612.95,7.20 613.86,7.55C614.77,7.90 616.14,8.13 616.59,8.25" fill="none" stroke="#a1a1ff" stroke-width="1.15" stroke-linecap="round" stroke-linejoin="round"/>
<path d="M602.93,8.25C603.23,8.29 603.99,8.36 604.75,8.48C605.51,8.60 606.42,9.10 607.48,8.94C608.55,8.79 609.89,8.17 611.13,7.55C612.37,6.93 613.84,5.85 614.92,5.23C616.01,4.61 616.75,4.21 617.66,3.83C618.57,3.46 619.93,3.12 620.39,2.98" fill="none" stroke="#ffa1a1" stroke-width="1.15" stroke-linecap="round" stroke-linejoin="round"/>
<path d="M592.30,11.73C593.44,11.34 597.23,10.03 599.13,9.41C601.03,8.79 602.30,8.40 603.69,8.01C605.08,7.63 606.34,7.37 607.48,7.09C608.62,6.80 610.01,6.44 610.52,6.31" fill="none" stroke="#ababff" stroke-width="1.15" stroke-linecap="round" stroke-linejoin="round"/>
<path d="M592.30,16.38C593.44,16.07 596.60,15.01 599.13,14.52C601.66,14.03 605.33,13.62 607.48,13.44C609.63,13.25 610.34,13.44 612.04,13.44C613.73,13.44 615.96,13.72 617.66,13.44C619.35,13.15 620.74,12.56 622.21,11.73C623.68,10.91 625.37,8.79 626.46,8.48C627.55,8.17 627.75,9.18 628.74,9.87C629.73,10.57 630.89,11.96 632.38,12.66C633.88,13.36 635.80,14.03 637.70,14.05C639.60,14.08 641.97,13.67 643.77,12.82C645.57,11.96 647.19,10.36 648.48,8.94C649.77,7.52 650.76,5.32 651.51,4.30C652.27,3.28 652.78,3.07 653.03,2.83" fill="none" stroke="url(#g7)" stroke-width="1.15" stroke-linecap="round" stroke-linejoin="round"/>
<path d="M592.30,17.77C593.44,18.31 596.60,19.89 599.13,21.02C601.66,22.16 605.18,24.12 607.48,24.59C609.79,25.05 611.25,24.56 612.95,23.81C614.64,23.06 616.11,21.33 617.66,20.10C619.20,18.86 621.00,17.35 622.21,16.38C623.43,15.41 623.86,14.73 624.94,14.29C626.03,13.85 626.61,13.76 628.74,13.75C630.87,13.73 634.69,14.11 637.70,14.21C640.71,14.31 644.51,13.95 646.81,14.36C649.11,14.78 649.72,15.78 651.51,16.69C653.31,17.59 655.54,18.88 657.59,19.79C659.64,20.69 662.04,21.32 663.81,22.11C665.58,22.90 666.17,22.96 668.22,24.51C670.27,26.06 673.58,29.14 676.11,31.40C678.64,33.66 682.19,36.95 683.40,38.06" fill="none" stroke="#3838ff" stroke-width="1.15" stroke-linecap="round" stroke-linejoin="round"/>
<path d="M592.30,38.06C593.44,37.47 596.65,35.48 599.13,34.50C601.61,33.52 604.62,32.44 607.18,32.18C609.74,31.92 612.22,33.21 614.47,32.95C616.72,32.69 618.11,31.53 620.69,30.63C623.27,29.72 627.12,28.00 629.95,27.53C632.79,27.07 635.14,27.89 637.70,27.84C640.25,27.79 642.99,27.14 645.29,27.22C647.59,27.30 649.47,27.96 651.51,28.30C653.56,28.65 655.54,29.49 657.59,29.31C659.64,29.13 662.04,28.02 663.81,27.22C665.58,26.42 666.17,25.88 668.22,24.51C670.27,23.14 673.58,20.19 676.11,19.01C678.64,17.84 682.19,17.72 683.40,17.46" fill="none" stroke="#2c2cff" stroke-width="1.15" stroke-linecap="round" stroke-linejoin="round"/>
<path d="M592.30,21.95C593.44,22.11 597.23,23.12 599.13,22.88C601.03,22.65 602.30,21.10 603.69,20.56C605.08,20.02 606.09,19.63 607.48,19.63C608.88,19.63 611.03,20.26 612.04,20.56C613.05,20.86 613.30,21.27 613.56,21.41" fill="none" stroke="#ff8a8a" stroke-width="1.15" stroke-linecap="round" stroke-linejoin="round"/>
<path d="M612.04,24.90C612.97,24.25 615.96,22.29 617.66,21.02C619.35,19.76 621.00,18.47 622.21,17.31C623.43,16.15 624.01,15.29 624.94,14.05C625.88,12.82 626.89,11.03 627.83,9.87C628.77,8.71 629.50,7.79 630.56,7.09C631.62,6.38 633.02,5.90 634.21,5.61C635.40,5.33 635.85,5.21 637.70,5.38C639.55,5.55 643.24,5.77 645.29,6.62C647.34,7.47 648.45,8.81 650.00,10.49C651.54,12.17 653.29,15.19 654.55,16.69C655.82,18.19 656.04,19.09 657.59,19.48C659.13,19.86 661.99,19.09 663.81,19.01C665.64,18.93 666.47,18.88 668.52,19.01C670.57,19.14 673.63,19.27 676.11,19.79C678.59,20.30 682.19,21.72 683.40,22.11" fill="none" stroke="url(#g8)" stroke-width="1.15" stroke-linecap="round" stroke-linejoin="round"/>
<path d="M649.24,3.60C649.62,3.72 649.84,3.75 651.51,4.30C653.19,4.84 656.98,5.96 659.26,6.85C661.54,7.74 663.56,8.96 665.18,9.64C666.80,10.32 667.71,10.96 668.98,10.96C670.24,10.96 671.38,10.35 672.77,9.64C674.16,8.93 675.73,7.85 677.33,6.70C678.92,5.55 681.20,3.65 682.34,2.75C683.48,1.84 683.86,1.52 684.16,1.28" fill="none" stroke="#5656ff" stroke-width="1.15" stroke-linecap="round" stroke-linejoin="round"/>
<path d="M651.51,10.96C652.02,11.14 652.75,11.34 654.55,12.04C656.35,12.74 659.71,14.24 662.30,15.14C664.88,16.04 666.52,16.95 670.04,17.46C673.56,17.98 681.17,18.11 683.40,18.24" fill="none" stroke="#b4b4ff" stroke-width="1.15" stroke-linecap="round" stroke-linejoin="round"/>
<path d="M671.25,10.42C672.27,10.51 675.30,10.80 677.33,10.96C679.35,11.11 682.39,11.28 683.40,11.34" fill="none" stroke="#a1a1ff" stroke-width="1.15" stroke-linecap="round" stroke-linejoin="round"/>
<path d="M592.30,56.73C593.44,55.75 596.65,52.29 599.13,50.84C601.61,49.40 604.35,48.18 607.18,48.05C610.01,47.92 613.13,48.57 616.14,50.07C619.15,51.56 622.44,55.10 625.25,57.04C628.06,58.97 630.92,60.70 632.99,61.68C635.07,62.66 635.65,62.92 637.70,62.92C639.75,62.92 642.99,62.15 645.29,61.68C647.59,61.22 649.19,60.91 651.51,60.13C653.84,59.36 656.58,57.81 659.26,57.04C661.94,56.26 664.80,55.36 667.61,55.49C670.42,55.62 674.04,57.17 676.11,57.81C678.19,58.46 678.85,59.36 680.06,59.36C681.27,59.36 682.84,58.07 683.40,57.81" fill="none" stroke="#ff2c2c" stroke-width="1.15" stroke-linecap="round" stroke-linejoin="round"/>
<path d="M592.30,65.09C593.44,66.07 596.65,68.83 599.13,70.98C601.61,73.12 604.35,77.43 607.18,77.95C610.01,78.46 613.13,75.49 616.14,74.07C619.15,72.65 622.44,70.33 625.25,69.43C628.06,68.52 630.92,68.78 632.99,68.65C635.07,68.52 635.65,68.91 637.70,68.65C639.75,68.40 642.99,67.75 645.29,67.10C647.59,66.46 649.47,64.26 651.51,64.78C653.56,65.30 655.54,68.14 657.59,70.20C659.64,72.27 662.04,75.37 663.81,77.17C665.58,78.98 666.67,79.69 668.22,81.04C669.76,82.40 671.51,83.43 673.08,85.30C674.64,87.18 675.91,89.95 677.63,92.27C679.35,94.60 682.44,98.08 683.40,99.24" fill="none" stroke="#ff2c2c" stroke-width="1.15" stroke-linecap="round" stroke-linejoin="round"/>
<path d="M592.30,99.71C593.44,98.99 596.65,96.56 599.13,95.37C601.61,94.18 604.62,93.10 607.18,92.58C609.74,92.07 611.71,92.75 614.47,92.27C617.23,91.80 621.15,90.30 623.73,89.72C626.31,89.14 627.60,88.58 629.95,88.79C632.31,89.00 635.27,90.98 637.85,90.96C640.43,90.93 643.16,88.84 645.44,88.63C647.72,88.43 649.21,89.89 651.51,89.72C653.82,89.55 657.21,88.49 659.26,87.63C661.31,86.76 662.32,85.63 663.81,84.53C665.31,83.43 666.67,82.59 668.22,81.04C669.76,79.50 671.51,77.17 673.08,75.24C674.64,73.30 675.91,71.17 677.63,69.43C679.35,67.69 682.44,65.56 683.40,64.78" fill="none" stroke="#ff2c2c" stroke-width="1.15" stroke-linecap="round" stroke-linejoin="round"/>
<path d="M592.30,114.04C593.69,114.35 598.17,115.33 600.65,115.89C603.13,116.46 604.88,117.06 607.18,117.44C609.48,117.83 612.22,117.19 614.47,118.22C616.72,119.25 618.74,121.19 620.69,123.64C622.64,126.09 624.74,129.78 626.16,132.93C627.58,136.08 628.59,140.60 629.20,142.54C629.80,144.47 629.70,144.21 629.80,144.55" fill="none" stroke="#6f6fff" stroke-width="1.15" stroke-linecap="round" stroke-linejoin="round"/>
<path d="M592.30,122.86C593.69,122.68 598.17,122.04 600.65,121.78C603.13,121.52 604.88,121.26 607.18,121.32C609.48,121.37 612.34,121.06 614.47,122.09C616.59,123.12 618.26,125.19 619.93,127.51C621.60,129.83 623.32,133.53 624.49,136.03C625.65,138.53 626.44,141.12 626.92,142.54C627.40,143.96 627.30,144.21 627.37,144.55" fill="none" stroke="#6f6fff" stroke-width="1.15" stroke-linecap="round" stroke-linejoin="round"/>
<path d="M592.30,125.96C593.69,126.14 598.17,126.66 600.65,127.05C603.13,127.43 605.13,128.08 607.18,128.29C609.23,128.49 610.95,127.38 612.95,128.29C614.95,129.19 617.50,131.33 619.17,133.71C620.84,136.08 622.24,140.73 622.97,142.54C623.70,144.34 623.48,144.21 623.58,144.55" fill="none" stroke="#ff6767" stroke-width="1.15" stroke-linecap="round" stroke-linejoin="round"/>
<path d="M592.30,129.83C593.69,129.83 598.17,129.71 600.65,129.83C603.13,129.96 604.88,130.22 607.18,130.61C609.48,131.00 612.47,130.87 614.47,132.16C616.47,133.45 618.14,136.62 619.17,138.35C620.21,140.08 620.36,141.50 620.69,142.54C621.02,143.57 621.07,144.21 621.15,144.55" fill="none" stroke="#ff6767" stroke-width="1.15" stroke-linecap="round" stroke-linejoin="round"/>
<path d="M599.13,144.55C599.77,143.65 601.59,140.55 602.93,139.13C604.27,137.71 605.76,136.03 607.18,136.03C608.60,136.03 610.12,137.71 611.43,139.13C612.75,140.55 614.47,143.65 615.07,144.55" fill="none" stroke="#9a9aff" stroke-width="1.15" stroke-linecap="round" stroke-linejoin="round"/>
<path d="M644.68,144.55C644.78,144.21 644.15,144.86 645.29,142.54C646.43,140.21 649.47,134.02 651.51,130.61C653.56,127.20 655.67,124.16 657.59,122.09C659.51,120.02 661.31,118.60 663.05,118.22C664.80,117.83 665.89,119.12 668.06,119.77C670.24,120.41 673.56,121.57 676.11,122.09C678.67,122.61 682.19,122.74 683.40,122.86" fill="none" stroke="#6f6fff" stroke-width="1.15" stroke-linecap="round" stroke-linejoin="round"/>
<path d="M647.11,144.55C647.21,144.21 646.73,144.47 647.72,142.54C648.71,140.60 651.11,135.82 653.03,132.93C654.96,130.04 657.21,127.12 659.26,125.19C661.31,123.25 663.86,122.14 665.33,121.32C666.80,120.49 666.27,121.13 668.06,120.23C669.86,119.33 673.56,116.93 676.11,115.89C678.67,114.86 682.19,114.35 683.40,114.04" fill="none" stroke="#6f6fff" stroke-width="1.15" stroke-linecap="round" stroke-linejoin="round"/>
<path d="M650.15,144.55C650.25,144.21 649.52,144.34 650.76,142.54C652.00,140.73 655.41,135.69 657.59,133.71C659.76,131.72 661.99,131.25 663.81,130.61C665.64,129.96 666.47,130.22 668.52,129.83C670.57,129.45 673.63,128.75 676.11,128.29C678.59,127.82 682.19,127.25 683.40,127.05" fill="none" stroke="#ff6767" stroke-width="1.15" stroke-linecap="round" stroke-linejoin="round"/>
<path d="M651.67,144.55C651.77,144.21 651.01,143.96 652.27,142.54C653.54,141.12 657.08,137.50 659.26,136.03C661.43,134.56 663.79,134.22 665.33,133.71C666.88,133.19 665.51,133.45 668.52,132.93C671.53,132.42 680.92,131.00 683.40,130.61" fill="none" stroke="#ff6767" stroke-width="1.15" stroke-linecap="round" stroke-linejoin="round"/>
<path d="M659.41,144.55C660.12,143.52 662.14,140.03 663.66,138.35C665.18,136.68 667.00,134.48 668.52,134.48C670.04,134.48 671.43,136.68 672.77,138.35C674.11,140.03 675.93,143.52 676.57,144.55" fill="none" stroke="#9a9aff" stroke-width="1.15" stroke-linecap="round" stroke-linejoin="round"/>
</g>
<text x="602.30" y="71.00" font-size="4.29" font-weight="bold" fill="#9a1cff" font-family="'Liberation Sans', sans-serif">2</text>
<text x="604.78" y="74.00" font-size="6.70" font-weight="bold" fill="#9a1cff" font-family="'Liberation Sans', sans-serif">E</text>
<text x="609.35" y="75.60" font-size="4.29" font-weight="bold" fill="#9a1cff" font-family="'Liberation Sans', sans-serif">1/2</text>
<text x="662.30" y="68.60" font-size="4.29" font-weight="bold" fill="#9a1cff" font-family="'Liberation Sans', sans-serif">2</text>
<text x="664.78" y="71.60" font-size="6.70" font-weight="bold" fill="#9a1cff" font-family="'Liberation Sans', sans-serif">E</text>
<text x="669.35" y="73.20" font-size="4.29" font-weight="bold" fill="#9a1cff" font-family="'Liberation Sans', sans-serif">1/2</text>
<text x="604.60" y="101.20" font-size="6.70" font-weight="bold" fill="#9a1cff" font-family="'Liberation Sans', sans-serif">A</text>
<text x="609.54" y="102.80" font-size="4.29" font-weight="bold" fill="#9a1cff" font-family="'Liberation Sans', sans-serif">3/2</text>
<text x="663.80" y="93.00" font-size="4.29" font-weight="bold" fill="#9a1cff" font-family="'Liberation Sans', sans-serif">1</text>
<text x="666.28" y="96.00" font-size="6.70" font-weight="bold" fill="#9a1cff" font-family="'Liberation Sans', sans-serif">E</text>
<text x="670.85" y="97.60" font-size="4.29" font-weight="bold" fill="#9a1cff" font-family="'Liberation Sans', sans-serif">1/2</text>
<rect x="624.60" y="99.30" width="26.00" height="25.40" fill="#fff" stroke="#c4c4c4" stroke-width="0.7"/>
<path d="M641.05,117.49L644.20,112.03L647.35,117.49Z" fill="#d5ebce"/>
<path d="M640.75,106.06L634.45,106.06L637.60,100.60Z" fill="#d5ebce"/>
<path d="M631.00,112.03L634.15,117.49L627.85,117.49Z" fill="#d5ebce"/>
<path d="M634.15,117.49L641.05,117.49L637.60,123.46Z" fill="#7f9ed9"/>
<path d="M644.20,112.03L640.75,106.06L647.65,106.06Z" fill="#7f9ed9"/>
<path d="M634.45,106.06L631.00,112.03L627.55,106.06Z" fill="#7f9ed9"/>
<text transform="translate(652.50,113.10) scale(1.13,1)" font-size="6.5" font-weight="bold" letter-spacing="0.05" fill="#1e1e1e" font-family="'Liberation Serif', serif">κ = –0.42</text>
<g clip-path="url(#cp10)">
<path d="M100.50,182.10C100.95,181.98 102.30,181.75 103.20,181.41C104.10,181.06 104.85,180.49 105.90,180.03C106.95,179.57 108.28,178.96 109.50,178.65C110.72,178.34 111.88,178.42 113.25,178.19C114.62,177.96 116.62,177.51 117.75,177.27C118.88,177.03 119.62,176.82 120.00,176.73" fill="none" stroke="#b4b4ff" stroke-width="1.15" stroke-linecap="round" stroke-linejoin="round"/>
<path d="M96.75,176.89C97.20,177.03 98.55,177.36 99.45,177.73C100.35,178.10 101.07,178.50 102.15,179.11C103.22,179.72 104.68,180.79 105.90,181.41C107.12,182.02 108.45,182.63 109.50,182.79C110.55,182.94 111.45,182.44 112.20,182.33C112.95,182.21 113.70,182.13 114.00,182.10" fill="none" stroke="#ffb4b4" stroke-width="1.15" stroke-linecap="round" stroke-linejoin="round"/>
<path d="M106.50,180.18C107.00,180.31 108.38,180.67 109.50,180.95C110.62,181.23 111.88,181.48 113.25,181.87C114.62,182.25 115.88,182.63 117.75,183.25C119.62,183.86 123.38,185.16 124.50,185.54" fill="none" stroke="#bcbcff" stroke-width="1.15" stroke-linecap="round" stroke-linejoin="round"/>
<path d="M64.50,176.73C64.75,176.98 65.25,177.18 66.00,178.19C66.75,179.20 67.72,181.38 69.00,182.79C70.28,184.19 71.88,185.77 73.65,186.62C75.43,187.46 77.77,187.87 79.65,187.84C81.52,187.82 83.42,187.15 84.90,186.46C86.38,185.77 87.53,184.40 88.50,183.71C89.47,183.02 89.67,182.02 90.75,182.33C91.83,182.63 93.50,184.73 94.95,185.54C96.40,186.36 97.78,186.95 99.45,187.23C101.12,187.51 103.33,187.23 105.00,187.23C106.67,187.23 107.38,187.05 109.50,187.23C111.62,187.41 115.25,187.82 117.75,188.30C120.25,188.79 123.38,189.83 124.50,190.14" fill="none" stroke="url(#g9)" stroke-width="1.15" stroke-linecap="round" stroke-linejoin="round"/>
<path d="M34.50,211.59C35.70,210.49 39.20,207.24 41.70,205.00C44.20,202.77 47.48,199.72 49.50,198.19C51.52,196.65 52.10,196.59 53.85,195.81C55.60,195.03 57.98,194.41 60.00,193.51C62.02,192.62 64.22,191.34 66.00,190.45C67.78,189.55 68.38,188.56 70.65,188.15C72.93,187.74 76.67,188.10 79.65,188.00C82.62,187.89 86.40,187.52 88.50,187.54C90.60,187.55 91.17,187.64 92.25,188.07C93.33,188.51 93.75,189.18 94.95,190.14C96.15,191.10 97.93,192.59 99.45,193.82C100.97,195.04 102.42,196.75 104.10,197.50C105.77,198.24 107.22,198.72 109.50,198.26C111.78,197.80 115.25,195.86 117.75,194.74C120.25,193.61 123.38,192.06 124.50,191.52" fill="none" stroke="#5656ff" stroke-width="1.15" stroke-linecap="round" stroke-linejoin="round"/>
<path d="M34.50,191.21C35.70,191.47 39.20,191.58 41.70,192.75C44.20,193.91 47.48,196.83 49.50,198.19C51.52,199.54 52.10,200.07 53.85,200.87C55.60,201.66 57.98,202.76 60.00,202.93C62.02,203.11 63.98,202.28 66.00,201.94C68.03,201.59 69.88,200.94 72.15,200.87C74.43,200.79 77.12,201.43 79.65,201.48C82.17,201.53 84.50,200.71 87.30,201.17C90.10,201.63 93.90,203.34 96.45,204.24C99.00,205.13 100.38,206.28 102.60,206.54C104.83,206.79 107.28,205.51 109.80,205.77C112.32,206.02 115.30,207.10 117.75,208.07C120.20,209.04 123.38,211.00 124.50,211.59" fill="none" stroke="#4c4cff" stroke-width="1.15" stroke-linecap="round" stroke-linejoin="round"/>
<path d="M103.50,195.12C103.75,194.98 104.00,194.57 105.00,194.28C106.00,193.98 108.12,193.36 109.50,193.36C110.88,193.36 111.88,193.74 113.25,194.28C114.62,194.81 115.88,196.35 117.75,196.58C119.62,196.81 123.38,195.81 124.50,195.66" fill="none" stroke="#ff9b9b" stroke-width="1.15" stroke-linecap="round" stroke-linejoin="round"/>
<path d="M34.50,195.81C35.70,195.43 39.25,194.02 41.70,193.51C44.15,193.00 47.18,192.87 49.20,192.75C51.23,192.62 52.05,192.67 53.85,192.75C55.65,192.82 58.48,193.59 60.00,193.21C61.52,192.82 61.75,191.93 63.00,190.45C64.25,188.97 65.97,185.98 67.50,184.32C69.03,182.66 70.12,181.33 72.15,180.49C74.18,179.65 77.82,179.43 79.65,179.26C81.47,179.10 81.92,179.21 83.10,179.49C84.27,179.77 85.65,180.25 86.70,180.95C87.75,181.65 88.48,182.56 89.40,183.71C90.33,184.85 91.33,186.62 92.25,187.84C93.17,189.07 93.75,189.91 94.95,191.06C96.15,192.21 97.78,193.49 99.45,194.74C101.12,195.99 104.08,197.93 105.00,198.57" fill="none" stroke="url(#g10)" stroke-width="1.15" stroke-linecap="round" stroke-linejoin="round"/>
<path d="M33.75,175.20C34.05,175.44 34.43,175.76 35.55,176.66C36.68,177.55 38.93,179.43 40.50,180.56C42.08,181.70 43.62,182.77 45.00,183.48C46.38,184.18 47.50,184.78 48.75,184.78C50.00,184.78 50.90,184.15 52.50,183.48C54.10,182.80 56.10,181.60 58.35,180.72C60.60,179.84 64.35,178.73 66.00,178.19C67.65,177.65 67.88,177.61 68.25,177.50" fill="none" stroke="#7878ff" stroke-width="1.15" stroke-linecap="round" stroke-linejoin="round"/>
<path d="M34.50,191.98C36.70,191.85 44.22,191.72 47.70,191.21C51.17,190.70 52.80,189.81 55.35,188.92C57.90,188.02 61.23,186.54 63.00,185.85C64.78,185.16 65.50,184.96 66.00,184.78" fill="none" stroke="#c3c3ff" stroke-width="1.15" stroke-linecap="round" stroke-linejoin="round"/>
<path d="M34.50,185.16C35.50,185.10 38.50,184.93 40.50,184.78C42.50,184.62 45.50,184.33 46.50,184.24" fill="none" stroke="#b4b4ff" stroke-width="1.15" stroke-linecap="round" stroke-linejoin="round"/>
<path d="M34.50,231.13C35.05,231.38 36.60,232.66 37.80,232.66C39.00,232.66 39.65,231.77 41.70,231.13C43.75,230.49 47.33,228.96 50.10,228.83C52.88,228.70 55.70,229.60 58.35,230.36C61.00,231.13 63.70,232.66 66.00,233.43C68.30,234.19 69.88,234.50 72.15,234.96C74.43,235.42 77.62,236.18 79.65,236.18C81.67,236.18 82.25,235.93 84.30,234.96C86.35,233.99 89.17,232.28 91.95,230.36C94.72,228.45 97.97,224.95 100.95,223.47C103.92,221.99 107.00,221.35 109.80,221.47C112.60,221.60 115.30,222.80 117.75,224.23C120.20,225.66 123.38,229.08 124.50,230.06" fill="none" stroke="#ff4c4c" stroke-width="1.15" stroke-linecap="round" stroke-linejoin="round"/>
<path d="M34.50,272.11C35.45,270.97 38.50,267.52 40.20,265.22C41.90,262.92 43.15,260.18 44.70,258.32C46.25,256.47 47.98,255.45 49.50,254.11C51.02,252.77 52.10,252.07 53.85,250.28C55.60,248.49 57.98,245.43 60.00,243.39C62.02,241.34 63.98,238.53 66.00,238.02C68.03,237.51 69.88,239.68 72.15,240.32C74.43,240.96 77.62,241.60 79.65,241.85C81.67,242.11 82.25,241.73 84.30,241.85C86.35,241.98 89.17,241.73 91.95,242.62C94.72,243.51 97.97,245.81 100.95,247.22C103.92,248.62 107.00,251.56 109.80,251.05C112.60,250.54 115.30,246.27 117.75,244.15C120.20,242.03 123.38,239.30 124.50,238.33" fill="none" stroke="#ff4c4c" stroke-width="1.15" stroke-linecap="round" stroke-linejoin="round"/>
<path d="M34.50,238.02C35.45,238.79 38.50,240.90 40.20,242.62C41.90,244.34 43.15,246.45 44.70,248.37C46.25,250.28 47.98,252.58 49.50,254.11C51.02,255.64 52.38,256.47 53.85,257.56C55.33,258.64 56.32,259.77 58.35,260.62C60.37,261.48 63.73,262.53 66.00,262.69C68.28,262.86 69.75,261.41 72.00,261.62C74.25,261.82 76.95,263.89 79.50,263.92C82.05,263.94 84.97,261.98 87.30,261.77C89.62,261.57 90.90,262.12 93.45,262.69C96.00,263.27 99.88,264.75 102.60,265.22C105.33,265.69 107.28,265.02 109.80,265.53C112.32,266.04 115.30,267.11 117.75,268.28C120.20,269.46 123.38,271.86 124.50,272.57" fill="none" stroke="#ff4c4c" stroke-width="1.15" stroke-linecap="round" stroke-linejoin="round"/>
<path d="M87.45,316.93C87.55,316.60 87.45,316.86 88.05,314.94C88.65,313.03 89.65,308.56 91.05,305.44C92.45,302.33 94.53,298.67 96.45,296.25C98.38,293.82 100.38,291.91 102.60,290.88C104.83,289.86 107.53,290.50 109.80,290.12C112.07,289.74 113.80,289.15 116.25,288.59C118.70,288.02 123.12,287.05 124.50,286.75" fill="none" stroke="#6f6fff" stroke-width="1.15" stroke-linecap="round" stroke-linejoin="round"/>
<path d="M89.85,316.93C89.92,316.60 89.83,316.34 90.30,314.94C90.77,313.54 91.55,310.98 92.70,308.50C93.85,306.03 95.55,302.38 97.20,300.08C98.85,297.78 100.50,295.74 102.60,294.71C104.70,293.69 107.53,294.00 109.80,293.95C112.07,293.90 113.80,294.15 116.25,294.41C118.70,294.66 123.12,295.30 124.50,295.48" fill="none" stroke="#6f6fff" stroke-width="1.15" stroke-linecap="round" stroke-linejoin="round"/>
<path d="M93.60,316.93C93.70,316.60 93.47,316.73 94.20,314.94C94.93,313.15 96.30,308.56 97.95,306.21C99.60,303.86 102.12,301.74 104.10,300.84C106.07,299.95 107.77,301.05 109.80,300.84C111.83,300.64 113.80,300.00 116.25,299.62C118.70,299.24 123.12,298.72 124.50,298.55" fill="none" stroke="#ff6666" stroke-width="1.15" stroke-linecap="round" stroke-linejoin="round"/>
<path d="M96.00,316.93C96.08,316.60 96.12,315.96 96.45,314.94C96.78,313.92 96.92,312.51 97.95,310.80C98.98,309.09 100.63,305.95 102.60,304.67C104.58,303.40 107.53,303.53 109.80,303.14C112.07,302.76 113.80,302.50 116.25,302.38C118.70,302.25 123.12,302.38 124.50,302.38" fill="none" stroke="#ff6666" stroke-width="1.15" stroke-linecap="round" stroke-linejoin="round"/>
<path d="M102.00,316.93C102.60,316.04 104.30,312.97 105.60,311.57C106.90,310.16 108.40,308.50 109.80,308.50C111.20,308.50 112.67,310.16 114.00,311.57C115.33,312.97 117.12,316.04 117.75,316.93" fill="none" stroke="#9999ff" stroke-width="1.15" stroke-linecap="round" stroke-linejoin="round"/>
<path d="M34.50,295.48C35.70,295.35 39.18,295.23 41.70,294.71C44.23,294.20 47.50,293.06 49.65,292.42C51.80,291.78 52.87,290.50 54.60,290.88C56.32,291.27 58.10,292.67 60.00,294.71C61.90,296.76 63.98,299.77 66.00,303.14C68.03,306.51 71.03,312.64 72.15,314.94C73.28,317.24 72.65,316.60 72.75,316.93" fill="none" stroke="#6f6fff" stroke-width="1.15" stroke-linecap="round" stroke-linejoin="round"/>
<path d="M34.50,286.75C35.70,287.05 39.18,287.56 41.70,288.59C44.23,289.61 47.88,291.98 49.65,292.88C51.42,293.77 50.90,293.13 52.35,293.95C53.80,294.77 56.32,295.86 58.35,297.78C60.37,299.69 62.60,302.58 64.50,305.44C66.40,308.30 68.78,313.03 69.75,314.94C70.72,316.86 70.25,316.60 70.35,316.93" fill="none" stroke="#6f6fff" stroke-width="1.15" stroke-linecap="round" stroke-linejoin="round"/>
<path d="M34.50,299.62C35.70,299.82 39.25,300.38 41.70,300.84C44.15,301.30 47.18,301.99 49.20,302.38C51.23,302.76 52.05,302.50 53.85,303.14C55.65,303.78 57.85,304.24 60.00,306.21C62.15,308.17 65.53,313.15 66.75,314.94C67.97,316.73 67.25,316.60 67.35,316.93" fill="none" stroke="#ff6666" stroke-width="1.15" stroke-linecap="round" stroke-linejoin="round"/>
<path d="M34.50,303.14C36.95,303.53 46.23,304.93 49.20,305.44C52.18,305.95 50.83,305.70 52.35,306.21C53.88,306.72 56.20,307.05 58.35,308.50C60.50,309.96 64.00,313.54 65.25,314.94C66.50,316.34 65.75,316.60 65.85,316.93" fill="none" stroke="#ff6666" stroke-width="1.15" stroke-linecap="round" stroke-linejoin="round"/>
<path d="M41.25,316.93C41.88,315.91 43.67,312.46 45.00,310.80C46.33,309.14 47.70,306.97 49.20,306.97C50.70,306.97 52.50,309.14 54.00,310.80C55.50,312.46 57.50,315.91 58.20,316.93" fill="none" stroke="#9999ff" stroke-width="1.15" stroke-linecap="round" stroke-linejoin="round"/>
</g>
<text x="44.00" y="242.60" font-size="4.29" font-weight="bold" fill="#9a1cff" font-family="'Liberation Sans', sans-serif">2</text>
<text x="46.48" y="245.60" font-size="6.70" font-weight="bold" fill="#9a1cff" font-family="'Liberation Sans', sans-serif">E</text>
<text x="51.05" y="247.20" font-size="4.29" font-weight="bold" fill="#9a1cff" font-family="'Liberation Sans', sans-serif">1/2</text>
<text x="103.00" y="244.90" font-size="4.29" font-weight="bold" fill="#9a1cff" font-family="'Liberation Sans', sans-serif">2</text>
<text x="105.48" y="247.90" font-size="6.70" font-weight="bold" fill="#9a1cff" font-family="'Liberation Sans', sans-serif">E</text>
<text x="110.05" y="249.50" font-size="4.29" font-weight="bold" fill="#9a1cff" font-family="'Liberation Sans', sans-serif">1/2</text>
<text x="47.10" y="265.30" font-size="4.29" font-weight="bold" fill="#9a1cff" font-family="'Liberation Sans', sans-serif">1</text>
<text x="49.58" y="268.30" font-size="6.70" font-weight="bold" fill="#9a1cff" font-family="'Liberation Sans', sans-serif">E</text>
<text x="54.15" y="269.90" font-size="4.29" font-weight="bold" fill="#9a1cff" font-family="'Liberation Sans', sans-serif">1/2</text>
<text x="107.00" y="274.60" font-size="6.70" font-weight="bold" fill="#9a1cff" font-family="'Liberation Sans', sans-serif">A</text>
<text x="111.94" y="276.20" font-size="4.29" font-weight="bold" fill="#9a1cff" font-family="'Liberation Sans', sans-serif">3/2</text>
<rect x="67.00" y="271.20" width="25.50" height="25.20" fill="#fff" stroke="#c4c4c4" stroke-width="0.7"/>
<path d="M83.22,290.45L86.53,284.73L89.83,290.45Z" fill="#d5ebce"/>
<path d="M83.05,278.72L76.45,278.72L79.75,273.00Z" fill="#d5ebce"/>
<path d="M72.97,284.73L76.28,290.45L69.67,290.45Z" fill="#d5ebce"/>
<path d="M76.28,290.45L83.22,290.45L79.75,296.47Z" fill="#7f9ed9"/>
<path d="M86.53,284.73L83.05,278.72L90.00,278.72Z" fill="#7f9ed9"/>
<path d="M76.45,278.72L72.97,284.73L69.50,278.72Z" fill="#7f9ed9"/>
<text transform="translate(95.60,285.80) scale(1.13,1)" font-size="6.5" font-weight="bold" letter-spacing="0.05" fill="#1e1e1e" font-family="'Liberation Serif', serif">κ = 0.42</text>
<g clip-path="url(#cp11)">
<path d="M252.43,175.67C252.73,175.87 253.56,176.41 254.24,176.83C254.91,177.26 255.34,177.76 256.49,178.22C257.64,178.68 259.29,178.99 261.14,179.61C262.99,180.22 266.52,181.54 267.60,181.92" fill="none" stroke="#4343ff" stroke-width="1.15" stroke-linecap="round" stroke-linejoin="round"/>
<path d="M242.82,176.14C243.42,176.33 245.38,176.95 246.43,177.29C247.48,177.64 248.20,177.99 249.13,178.22C250.06,178.45 250.91,178.55 251.98,178.68C253.06,178.81 254.99,178.94 255.59,178.99" fill="none" stroke="#ff7e7e" stroke-width="1.15" stroke-linecap="round" stroke-linejoin="round"/>
<path d="M204.98,175.98C205.46,176.20 206.91,176.77 207.83,177.29C208.76,177.82 209.64,178.45 210.54,179.14C211.44,179.84 212.16,180.53 213.24,181.46C214.32,182.38 215.42,183.93 216.99,184.70C218.57,185.47 220.85,186.11 222.70,186.08C224.55,186.06 226.60,185.35 228.11,184.54C229.61,183.73 230.63,182.09 231.71,181.23C232.79,180.37 233.49,179.34 234.56,179.38C235.64,179.41 236.79,180.80 238.17,181.46C239.54,182.11 241.30,182.95 242.82,183.31C244.35,183.67 245.65,183.54 247.33,183.62C249.00,183.69 250.58,183.62 252.88,183.77C255.19,183.93 258.69,184.23 261.14,184.54C263.60,184.85 266.52,185.44 267.60,185.62" fill="none" stroke="url(#g11)" stroke-width="1.15" stroke-linecap="round" stroke-linejoin="round"/>
<path d="M177.50,211.38C178.70,210.39 182.88,207.12 184.71,205.44C186.54,203.76 187.16,202.71 188.46,201.28C189.76,199.84 191.29,197.92 192.52,196.80C193.74,195.68 194.49,195.27 195.82,194.57C197.15,193.86 198.95,193.20 200.48,192.56C202.00,191.92 203.60,191.33 204.98,190.71C206.36,190.09 207.51,189.52 208.73,188.86C209.96,188.21 210.96,187.24 212.34,186.78C213.72,186.32 215.27,186.26 216.99,186.08C218.72,185.90 220.70,185.90 222.70,185.70C224.70,185.49 227.18,184.89 229.01,184.85C230.83,184.81 232.14,185.03 233.66,185.47C235.19,185.90 236.64,186.44 238.17,187.47C239.69,188.50 241.30,190.40 242.82,191.64C244.35,192.87 245.65,194.14 247.33,194.88C249.00,195.61 250.58,196.49 252.88,196.03C255.19,195.57 258.69,193.45 261.14,192.10C263.60,190.75 266.52,188.63 267.60,187.94" fill="none" stroke="#2020ff" stroke-width="1.15" stroke-linecap="round" stroke-linejoin="round"/>
<path d="M177.50,186.55C178.13,186.70 180.03,187.01 181.25,187.47C182.48,187.94 183.66,188.48 184.86,189.32C186.06,190.17 187.19,191.32 188.46,192.56C189.74,193.81 190.84,195.54 192.52,196.80C194.19,198.06 196.52,199.24 198.52,200.12C200.53,200.99 201.75,202.01 204.53,202.05C207.31,202.09 212.14,200.50 215.19,200.35C218.25,200.20 220.30,201.10 222.85,201.12C225.40,201.15 227.71,200.17 230.51,200.50C233.31,200.84 237.12,202.36 239.67,203.13C242.22,203.90 243.57,204.95 245.83,205.13C248.08,205.31 250.63,203.85 253.18,204.21C255.74,204.57 258.74,206.09 261.14,207.29C263.55,208.49 266.52,210.70 267.60,211.38" fill="none" stroke="#2020ff" stroke-width="1.15" stroke-linecap="round" stroke-linejoin="round"/>
<path d="M246.28,192.02C246.60,191.83 247.13,191.21 248.23,190.87C249.33,190.52 251.51,189.91 252.88,189.94C254.26,189.97 255.11,190.56 256.49,191.02C257.86,191.48 259.29,192.69 261.14,192.72C262.99,192.74 266.52,191.43 267.60,191.17" fill="none" stroke="#ff3838" stroke-width="1.15" stroke-linecap="round" stroke-linejoin="round"/>
<path d="M177.50,191.17C178.13,190.94 180.03,190.22 181.25,189.79C182.48,189.35 183.48,188.73 184.86,188.55C186.23,188.37 187.69,188.55 189.51,188.71C191.34,188.86 193.57,189.22 195.82,189.48C198.07,189.73 201.18,190.58 203.03,190.25C204.88,189.91 205.68,188.94 206.93,187.47C208.18,186.01 209.49,182.92 210.54,181.46C211.59,179.99 212.16,179.45 213.24,178.68C214.32,177.91 215.42,177.22 216.99,176.83C218.57,176.45 221.00,176.32 222.70,176.37C224.40,176.42 225.70,176.55 227.21,177.14C228.71,177.73 230.03,178.50 231.71,179.92C233.39,181.33 235.41,183.75 237.27,185.62C239.12,187.50 241.02,189.59 242.82,191.17C244.62,192.75 247.20,194.45 248.08,195.11" fill="none" stroke="url(#g12)" stroke-width="1.15" stroke-linecap="round" stroke-linejoin="round"/>
<path d="M189.51,182.61C189.96,182.63 191.17,182.73 192.22,182.69C193.27,182.65 194.44,182.67 195.82,182.38C197.20,182.10 198.95,181.61 200.48,181.00C202.00,180.38 203.60,179.38 204.98,178.68C206.36,177.99 208.11,177.14 208.73,176.83" fill="none" stroke="#ff9595" stroke-width="1.15" stroke-linecap="round" stroke-linejoin="round"/>
<path d="M177.50,182.38C178.28,182.31 180.63,182.07 182.16,181.92C183.68,181.77 185.28,181.69 186.66,181.46C188.04,181.23 189.19,180.84 190.41,180.53C191.64,180.22 192.64,179.99 194.02,179.61C195.39,179.22 197.15,178.76 198.67,178.22C200.20,177.68 202.43,176.68 203.18,176.37" fill="none" stroke="#9595ff" stroke-width="1.15" stroke-linecap="round" stroke-linejoin="round"/>
<path d="M177.50,187.94C178.13,187.94 179.73,188.01 181.25,187.94C182.78,187.86 184.83,187.58 186.66,187.47C188.49,187.37 190.54,187.40 192.22,187.32C193.89,187.24 195.04,187.29 196.72,187.01C198.40,186.73 200.58,186.24 202.28,185.62C203.98,185.01 205.41,184.16 206.93,183.31C208.46,182.46 210.21,181.46 211.44,180.53C212.66,179.61 213.82,178.22 214.29,177.76" fill="none" stroke="#2c2cff" stroke-width="1.15" stroke-linecap="round" stroke-linejoin="round"/>
<path d="M179.30,174.67C179.63,174.95 180.33,175.62 181.25,176.37C182.18,177.11 183.81,178.30 184.86,179.14C185.91,179.99 186.66,180.79 187.56,181.46C188.46,182.13 189.81,182.87 190.26,183.15" fill="none" stroke="#2c2cff" stroke-width="1.15" stroke-linecap="round" stroke-linejoin="round"/>
<path d="M177.50,230.19C177.93,230.32 178.85,231.22 180.05,230.96C181.25,230.71 182.53,229.34 184.71,228.65C186.89,227.96 190.31,226.80 193.12,226.80C195.92,226.80 198.85,227.70 201.53,228.65C204.20,229.60 206.63,231.68 209.19,232.51C211.74,233.33 214.29,233.33 216.84,233.59C219.40,233.84 221.70,234.74 224.50,234.05C227.31,233.35 230.61,231.35 233.66,229.42C236.72,227.49 239.57,224.15 242.82,222.48C246.08,220.81 250.13,219.27 253.18,219.40C256.24,219.53 258.74,221.71 261.14,223.25C263.55,224.79 266.52,227.75 267.60,228.65" fill="none" stroke="#ff2020" stroke-width="1.15" stroke-linecap="round" stroke-linejoin="round"/>
<path d="M177.50,272.22C178.70,270.80 182.23,266.82 184.71,263.74C187.19,260.65 190.34,256.28 192.37,253.71C194.39,251.14 195.09,250.37 196.87,248.31C198.65,246.26 200.98,243.30 203.03,241.37C205.08,239.45 206.88,237.13 209.19,236.75C211.49,236.36 214.57,238.55 216.84,239.06C219.12,239.57 220.82,239.63 222.85,239.83C224.88,240.04 226.70,239.78 229.01,240.29C231.31,240.81 233.86,241.58 236.67,242.92C239.47,244.25 243.07,246.90 245.83,248.31C248.58,249.73 250.63,251.91 253.18,251.40C255.74,250.88 258.74,247.59 261.14,245.23C263.55,242.86 266.52,238.55 267.60,237.21" fill="none" stroke="#ff2020" stroke-width="1.15" stroke-linecap="round" stroke-linejoin="round"/>
<path d="M177.50,235.98C178.70,237.39 182.23,241.50 184.71,244.46C187.19,247.41 190.34,251.53 192.37,253.71C194.39,255.90 195.34,256.28 196.87,257.57C198.40,258.85 199.47,260.65 201.53,261.42C203.58,262.19 206.63,262.14 209.19,262.19C211.74,262.24 214.62,261.50 216.84,261.73C219.07,261.96 220.72,263.40 222.55,263.58C224.38,263.76 225.95,263.13 227.81,262.81C229.66,262.49 231.69,261.63 233.66,261.65C235.64,261.68 237.39,262.41 239.67,262.96C241.95,263.52 244.90,264.71 247.33,264.97C249.76,265.23 251.93,263.81 254.24,264.51C256.54,265.20 258.92,267.85 261.14,269.13C263.37,270.42 266.52,271.70 267.60,272.22" fill="none" stroke="#ff2020" stroke-width="1.15" stroke-linecap="round" stroke-linejoin="round"/>
<path d="M229.76,316.94C229.88,316.61 229.73,316.61 230.51,314.94C231.28,313.27 232.89,309.80 234.41,306.92C235.94,304.04 237.77,300.03 239.67,297.66C241.57,295.30 243.57,293.63 245.83,292.73C248.08,291.83 250.88,292.52 253.18,292.27C255.49,292.01 257.24,291.70 259.64,291.19C262.04,290.67 266.27,289.52 267.60,289.18" fill="none" stroke="#1414ff" stroke-width="1.15" stroke-linecap="round" stroke-linejoin="round"/>
<path d="M233.06,316.94C233.16,316.61 233.06,316.35 233.66,314.94C234.26,313.52 235.41,310.82 236.67,308.46C237.92,306.10 239.39,302.86 241.17,300.75C242.95,298.64 245.33,296.71 247.33,295.81C249.33,294.91 251.13,295.25 253.18,295.35C255.24,295.45 257.24,295.92 259.64,296.43C262.04,296.94 266.27,298.10 267.60,298.44" fill="none" stroke="#1414ff" stroke-width="1.15" stroke-linecap="round" stroke-linejoin="round"/>
<path d="M236.82,316.94C236.92,316.61 236.69,316.35 237.42,314.94C238.14,313.52 239.52,310.18 241.17,308.46C242.82,306.74 245.33,305.38 247.33,304.60C249.33,303.83 251.13,304.17 253.18,303.83C255.24,303.50 257.24,302.99 259.64,302.60C262.04,302.21 266.27,301.70 267.60,301.52" fill="none" stroke="#ff2020" stroke-width="1.15" stroke-linecap="round" stroke-linejoin="round"/>
<path d="M239.07,316.94C239.17,316.61 239.32,315.58 239.67,314.94C240.02,314.29 240.14,314.29 241.17,313.09C242.20,311.88 243.82,308.97 245.83,307.69C247.83,306.40 250.88,305.71 253.18,305.38C255.49,305.04 257.24,305.68 259.64,305.68C262.04,305.68 266.27,305.43 267.60,305.38" fill="none" stroke="#ff2020" stroke-width="1.15" stroke-linecap="round" stroke-linejoin="round"/>
<path d="M246.88,316.94C247.40,316.33 248.98,314.14 250.03,313.24C251.08,312.34 252.13,311.54 253.18,311.54C254.24,311.54 255.31,312.34 256.34,313.24C257.36,314.14 258.84,316.33 259.34,316.94" fill="none" stroke="#1414ff" stroke-width="1.15" stroke-linecap="round" stroke-linejoin="round"/>
<path d="M177.50,298.44C178.70,298.10 182.23,297.12 184.71,296.43C187.19,295.74 190.06,294.71 192.37,294.27C194.67,293.83 196.50,293.11 198.52,293.81C200.55,294.50 202.63,296.51 204.53,298.44C206.43,300.36 208.28,302.63 209.94,305.38C211.59,308.13 213.59,313.01 214.44,314.94C215.29,316.87 214.94,316.61 215.04,316.94" fill="none" stroke="#1414ff" stroke-width="1.15" stroke-linecap="round" stroke-linejoin="round"/>
<path d="M177.50,289.18C178.70,289.52 182.23,290.29 184.71,291.19C187.19,292.09 190.34,293.76 192.37,294.58C194.39,295.40 195.09,295.22 196.87,296.12C198.65,297.02 201.10,298.05 203.03,299.98C204.96,301.91 206.86,305.20 208.43,307.69C210.01,310.18 211.71,313.40 212.49,314.94C213.26,316.48 212.99,316.61 213.09,316.94" fill="none" stroke="#1414ff" stroke-width="1.15" stroke-linecap="round" stroke-linejoin="round"/>
<path d="M177.50,301.52C179.98,301.78 189.14,302.68 192.37,303.06C195.60,303.45 195.09,303.19 196.87,303.83C198.65,304.48 200.98,305.07 203.03,306.92C205.08,308.77 208.06,313.27 209.19,314.94C210.31,316.61 209.69,316.61 209.79,316.94" fill="none" stroke="#ff2020" stroke-width="1.15" stroke-linecap="round" stroke-linejoin="round"/>
<path d="M177.50,305.38C179.98,305.43 189.39,305.56 192.37,305.68C195.34,305.81 193.84,305.68 195.37,306.15C196.90,306.61 199.47,306.99 201.53,308.46C203.58,309.93 206.56,313.52 207.68,314.94C208.81,316.35 208.18,316.61 208.28,316.94" fill="none" stroke="#ff2020" stroke-width="1.15" stroke-linecap="round" stroke-linejoin="round"/>
<path d="M185.46,316.94C186.08,316.20 188.06,313.63 189.21,312.47C190.36,311.31 191.32,310.00 192.37,310.00C193.42,310.00 194.37,311.31 195.52,312.47C196.67,313.63 198.65,316.20 199.27,316.94" fill="none" stroke="#1414ff" stroke-width="1.15" stroke-linecap="round" stroke-linejoin="round"/>
</g>
<text x="246.00" y="245.50" font-size="4.29" font-weight="bold" fill="#9a1cff" font-family="'Liberation Sans', sans-serif">2</text>
<text x="248.48" y="248.50" font-size="6.70" font-weight="bold" fill="#9a1cff" font-family="'Liberation Sans', sans-serif">E</text>
<text x="253.05" y="250.10" font-size="4.29" font-weight="bold" fill="#9a1cff" font-family="'Liberation Sans', sans-serif">1/2</text>
<text x="250.60" y="273.60" font-size="6.70" font-weight="bold" fill="#9a1cff" font-family="'Liberation Sans', sans-serif">A</text>
<text x="255.54" y="275.20" font-size="4.29" font-weight="bold" fill="#9a1cff" font-family="'Liberation Sans', sans-serif">3/2</text>
<rect x="210.20" y="270.30" width="25.50" height="26.10" fill="#fff" stroke="#c4c4c4" stroke-width="0.7"/>
<path d="M227.19,288.35L229.61,284.14L232.04,288.35Z" fill="#d5ebce"/>
<path d="M225.38,276.81L220.52,276.81L222.95,272.60Z" fill="#d5ebce"/>
<path d="M216.28,284.14L218.71,288.35L213.85,288.35Z" fill="#d5ebce"/>
<path d="M218.71,288.35L227.19,288.35L222.95,295.69Z" fill="#7f9ed9"/>
<path d="M229.61,284.14L225.38,276.81L233.85,276.81Z" fill="#7f9ed9"/>
<path d="M220.52,276.81L216.28,284.14L212.05,276.81Z" fill="#7f9ed9"/>
<text transform="translate(237.90,285.70) scale(1.13,1)" font-size="6.5" font-weight="bold" letter-spacing="0.05" fill="#1e1e1e" font-family="'Liberation Serif', serif">κ = 0.45</text>
<g clip-path="url(#cp12)">
<path d="M369.27,176.52C369.91,176.95 371.10,178.04 373.12,179.10C375.15,180.16 378.39,181.88 381.43,182.89C384.47,183.90 388.30,184.91 391.37,185.16C394.44,185.41 397.30,184.86 399.82,184.40C402.35,183.95 405.39,182.76 406.50,182.43" fill="none" stroke="#ff9999" stroke-width="1.15" stroke-linecap="round" stroke-linejoin="round"/>
<path d="M397.60,176.14C398.22,176.33 399.87,176.91 401.31,177.28C402.74,177.65 404.84,178.09 406.20,178.34C407.56,178.59 408.92,178.72 409.47,178.79" fill="none" stroke="#ff9999" stroke-width="1.15" stroke-linecap="round" stroke-linejoin="round"/>
<path d="M317.50,179.86C318.49,180.49 320.91,181.70 323.43,183.64C325.95,185.59 329.56,190.89 332.63,191.53C335.70,192.16 338.51,188.75 341.83,187.43C345.14,186.12 349.19,184.23 352.51,183.64C355.82,183.06 358.14,184.00 361.70,183.95C365.26,183.90 370.31,182.63 373.87,183.34C377.43,184.05 380.07,186.57 383.06,188.19C386.05,189.81 389.02,193.29 391.81,193.04C394.61,192.79 397.38,188.75 399.82,186.68C402.27,184.60 405.39,181.62 406.50,180.61" fill="none" stroke="#8d8dff" stroke-width="1.15" stroke-linecap="round" stroke-linejoin="round"/>
<path d="M349.39,176.14C349.66,176.33 349.86,176.41 351.02,177.28C352.19,178.15 354.46,180.31 356.36,181.37C358.27,182.43 360.66,183.47 362.44,183.64C364.23,183.82 365.39,183.19 367.04,182.43C368.70,181.67 371.12,180.15 372.38,179.10C373.64,178.05 374.24,176.63 374.61,176.14" fill="none" stroke="#9393ff" stroke-width="1.15" stroke-linecap="round" stroke-linejoin="round"/>
<path d="M317.50,179.86C318.49,180.11 320.91,180.69 323.43,181.37C325.95,182.05 329.56,183.95 332.63,183.95C335.70,183.95 339.16,182.43 341.83,181.37C344.50,180.31 347.14,178.45 348.65,177.58C350.16,176.71 350.50,176.38 350.88,176.14" fill="none" stroke="#ff9393" stroke-width="1.15" stroke-linecap="round" stroke-linejoin="round"/>
<path d="M317.50,179.40C320.02,179.48 328.06,179.96 332.63,179.86C337.20,179.75 342.40,179.29 344.94,178.79C347.49,178.30 347.41,177.22 347.91,176.90" fill="none" stroke="#ffc9c9" stroke-width="1.15" stroke-linecap="round" stroke-linejoin="round"/>
<path d="M324.92,179.17C325.66,179.30 327.39,179.87 329.37,179.93C331.34,179.99 334.56,179.68 336.78,179.55C339.01,179.43 341.73,179.24 342.72,179.17" fill="none" stroke="#c9c9ff" stroke-width="1.15" stroke-linecap="round" stroke-linejoin="round"/>
<path d="M317.50,212.21C318.49,211.37 320.91,209.55 323.43,207.14C325.95,204.72 330.16,198.61 332.63,197.74C335.10,196.87 336.49,200.85 338.27,201.91C340.05,202.97 340.94,203.74 343.31,204.10C345.68,204.47 349.44,203.98 352.51,204.10C355.57,204.23 358.66,204.86 361.70,204.86C364.74,204.86 367.46,204.10 370.75,204.10C374.04,204.10 377.92,205.37 381.43,204.86C384.94,204.36 388.75,200.82 391.81,201.07C394.88,201.33 397.38,204.52 399.82,206.38C402.27,208.23 405.39,211.24 406.50,212.21" fill="none" stroke="#9393ff" stroke-width="1.15" stroke-linecap="round" stroke-linejoin="round"/>
<path d="M317.50,226.91C317.87,227.04 318.46,228.05 319.73,227.67C320.99,227.29 322.91,225.35 325.06,224.64C327.22,223.93 329.84,223.30 332.63,223.43C335.42,223.55 339.16,224.56 341.83,225.40C344.50,226.23 346.35,228.05 348.65,228.43C350.95,228.81 353.45,227.67 355.62,227.67C357.80,227.67 360.20,228.30 361.70,228.43C363.21,228.56 362.89,228.93 364.67,228.43C366.45,227.92 369.59,226.91 372.38,225.40C375.18,223.88 378.19,220.93 381.43,219.34C384.67,217.74 388.75,215.85 391.81,215.85C394.88,215.85 397.38,217.67 399.82,219.34C402.27,221.00 405.39,224.77 406.50,225.85" fill="none" stroke="#ff4242" stroke-width="1.15" stroke-linecap="round" stroke-linejoin="round"/>
<path d="M317.50,230.40C318.49,231.46 321.58,234.44 323.43,236.76C325.29,239.09 327.09,242.52 328.62,244.34C330.16,246.16 331.39,247.55 332.63,247.68C333.87,247.80 334.51,246.67 336.04,245.10C337.57,243.53 339.73,240.49 341.83,238.28C343.93,236.07 346.62,232.72 348.65,231.84C350.68,230.95 351.81,232.66 353.99,232.98C356.17,233.29 358.64,233.23 361.70,233.73C364.77,234.24 368.82,234.36 372.38,236.01C375.94,237.65 380.47,241.44 383.06,243.58C385.66,245.73 386.50,247.50 387.96,248.89C389.42,250.28 390.58,252.05 391.81,251.92C393.05,251.79 394.04,249.77 395.38,248.13C396.71,246.49 397.97,244.72 399.82,242.07C401.68,239.42 405.39,233.86 406.50,232.22" fill="none" stroke="#ff4242" stroke-width="1.15" stroke-linecap="round" stroke-linejoin="round"/>
<path d="M317.50,269.42C318.76,268.21 323.09,264.44 325.06,262.15C327.04,259.86 328.11,257.29 329.37,255.71C330.63,254.13 331.52,252.68 332.63,252.68C333.74,252.68 334.51,254.51 336.04,255.71C337.57,256.91 339.08,259.06 341.83,259.88C344.57,260.70 349.19,260.13 352.51,260.63C355.82,261.14 358.66,262.78 361.70,262.91C364.74,263.03 367.71,261.64 370.75,261.39C373.79,261.14 377.40,261.64 379.95,261.39C382.49,261.14 384.45,260.70 386.03,259.88C387.61,259.06 388.48,257.30 389.44,256.47C390.41,255.63 390.95,254.81 391.81,254.88C392.68,254.94 393.30,255.63 394.63,256.85C395.97,258.06 397.85,260.05 399.82,262.15C401.80,264.25 405.39,268.21 406.50,269.42" fill="none" stroke="#ff4242" stroke-width="1.15" stroke-linecap="round" stroke-linejoin="round"/>
<path d="M370.16,314.82C370.41,314.39 370.50,313.75 371.64,312.24C372.78,310.72 375.08,307.69 376.98,305.72C378.89,303.75 380.59,301.76 383.06,300.42C385.54,299.08 389.27,298.32 391.81,297.69C394.36,297.06 395.89,297.01 398.34,296.63C400.79,296.25 405.14,295.62 406.50,295.42" fill="none" stroke="#3838ff" stroke-width="1.15" stroke-linecap="round" stroke-linejoin="round"/>
<path d="M387.22,298.90C387.98,298.75 389.96,297.87 391.81,297.99C393.67,298.12 395.89,298.93 398.34,299.66C400.79,300.39 405.14,301.93 406.50,302.39" fill="none" stroke="#3838ff" stroke-width="1.15" stroke-linecap="round" stroke-linejoin="round"/>
<path d="M317.50,295.42C320.02,295.62 329.09,296.17 332.63,296.63C336.17,297.08 336.41,297.01 338.71,298.14C341.01,299.28 344.00,301.10 346.43,303.45C348.85,305.80 351.89,310.34 353.25,312.24C354.61,314.13 354.36,314.39 354.58,314.82" fill="none" stroke="#3838ff" stroke-width="1.15" stroke-linecap="round" stroke-linejoin="round"/>
<path d="M317.50,302.69C320.02,302.31 328.33,300.17 332.63,300.42C336.93,300.67 340.12,302.24 343.31,304.21C346.50,306.18 350.13,310.47 351.76,312.24C353.40,314.01 352.88,314.39 353.10,314.82" fill="none" stroke="#3838ff" stroke-width="1.15" stroke-linecap="round" stroke-linejoin="round"/>
<path d="M379.06,314.06C379.33,313.75 379.53,313.00 380.69,312.24C381.85,311.48 384.18,310.14 386.03,309.51C387.88,308.88 388.40,308.83 391.81,308.45C395.23,308.07 404.05,307.44 406.50,307.24" fill="none" stroke="#ff4242" stroke-width="1.15" stroke-linecap="round" stroke-linejoin="round"/>
<path d="M382.77,314.06C383.06,313.60 383.04,312.14 384.55,311.33C386.05,310.52 388.16,309.21 391.81,309.21C395.47,309.21 404.05,310.98 406.50,311.33" fill="none" stroke="#ff4242" stroke-width="1.15" stroke-linecap="round" stroke-linejoin="round"/>
<path d="M317.50,307.69C320.02,307.54 329.09,306.73 332.63,306.78C336.17,306.83 336.66,307.09 338.71,308.00C340.76,308.90 343.66,311.23 344.94,312.24C346.23,313.25 346.18,313.75 346.43,314.06" fill="none" stroke="#ff4242" stroke-width="1.15" stroke-linecap="round" stroke-linejoin="round"/>
<path d="M317.50,311.33C320.02,311.33 328.58,311.18 332.63,311.33C336.68,311.48 340.02,311.78 341.83,312.24C343.63,312.69 343.19,313.75 343.46,314.06" fill="none" stroke="#ff4242" stroke-width="1.15" stroke-linecap="round" stroke-linejoin="round"/>
</g>
<text x="327.00" y="237.80" font-size="4.29" font-weight="bold" fill="#9a1cff" font-family="'Liberation Sans', sans-serif">1</text>
<text x="329.48" y="240.80" font-size="6.70" font-weight="bold" fill="#9a1cff" font-family="'Liberation Sans', sans-serif">E</text>
<text x="334.05" y="242.40" font-size="4.29" font-weight="bold" fill="#9a1cff" font-family="'Liberation Sans', sans-serif">1/2</text>
<text x="385.40" y="241.60" font-size="4.29" font-weight="bold" fill="#9a1cff" font-family="'Liberation Sans', sans-serif">2</text>
<text x="387.88" y="244.60" font-size="6.70" font-weight="bold" fill="#9a1cff" font-family="'Liberation Sans', sans-serif">E</text>
<text x="392.45" y="246.20" font-size="4.29" font-weight="bold" fill="#9a1cff" font-family="'Liberation Sans', sans-serif">1/2</text>
<text x="328.00" y="263.80" font-size="4.29" font-weight="bold" fill="#9a1cff" font-family="'Liberation Sans', sans-serif">2</text>
<text x="330.48" y="266.80" font-size="6.70" font-weight="bold" fill="#9a1cff" font-family="'Liberation Sans', sans-serif">E</text>
<text x="335.05" y="268.40" font-size="4.29" font-weight="bold" fill="#9a1cff" font-family="'Liberation Sans', sans-serif">1/2</text>
<text x="387.30" y="267.50" font-size="6.70" font-weight="bold" fill="#9a1cff" font-family="'Liberation Sans', sans-serif">A</text>
<text x="392.24" y="269.10" font-size="4.29" font-weight="bold" fill="#9a1cff" font-family="'Liberation Sans', sans-serif">3/2</text>
<rect x="349.50" y="270.30" width="25.20" height="24.80" fill="#fff" stroke="#c4c4c4" stroke-width="0.7"/>
<path d="M366.25,287.82L368.80,283.40L371.35,287.82Z" fill="#d5ebce"/>
<path d="M364.65,276.22L359.55,276.22L362.10,271.80Z" fill="#d5ebce"/>
<path d="M355.40,283.40L357.95,287.82L352.85,287.82Z" fill="#d5ebce"/>
<path d="M357.95,287.82L366.25,287.82L362.10,295.01Z" fill="#7f9ed9"/>
<path d="M368.80,283.40L364.65,276.22L372.95,276.22Z" fill="#7f9ed9"/>
<path d="M359.55,276.22L355.40,283.40L351.25,276.22Z" fill="#7f9ed9"/>
<text transform="translate(377.50,285.70) scale(1.13,1)" font-size="6.5" font-weight="bold" letter-spacing="0.05" fill="#1e1e1e" font-family="'Liberation Serif', serif">κ = 0.54</text>
<g clip-path="url(#cp13)">
<path d="M512.18,176.63C512.71,176.82 513.79,177.23 515.35,177.78C516.91,178.33 519.08,179.32 521.54,179.93C524.01,180.55 527.31,181.39 530.15,181.47C532.99,181.55 536.16,180.83 538.61,180.39C541.05,179.96 543.41,179.17 544.80,178.86C546.18,178.55 546.56,178.60 546.91,178.55" fill="none" stroke="#ff8383" stroke-width="1.15" stroke-linecap="round" stroke-linejoin="round"/>
<path d="M453.29,177.40C453.57,177.52 452.21,177.67 454.95,178.09C457.69,178.51 465.62,179.93 469.75,179.93C473.88,179.93 477.42,178.51 479.72,178.09C482.01,177.67 482.86,177.52 483.49,177.40" fill="none" stroke="#ff8383" stroke-width="1.15" stroke-linecap="round" stroke-linejoin="round"/>
<path d="M488.02,175.86C488.45,176.18 489.38,176.90 490.59,177.78C491.80,178.67 493.58,180.29 495.27,181.16C496.95,182.03 498.89,183.00 500.70,183.00C502.52,183.00 504.45,182.03 506.14,181.16C507.83,180.29 509.56,178.67 510.82,177.78C512.08,176.90 513.21,176.18 513.69,175.86" fill="none" stroke="#6e6eff" stroke-width="1.15" stroke-linecap="round" stroke-linejoin="round"/>
<path d="M454.80,178.94C455.86,179.95 458.65,182.84 461.14,185.00C463.63,187.16 466.65,191.53 469.75,191.91C472.84,192.29 476.24,188.79 479.72,187.30C483.19,185.82 487.21,183.77 490.59,183.00C493.96,182.24 496.32,182.88 499.95,182.70C503.57,182.52 508.46,181.03 512.33,181.93C516.21,182.83 520.16,186.41 523.20,188.07C526.25,189.74 528.03,192.29 530.60,191.91C533.17,191.53 536.14,187.93 538.61,185.77C541.07,183.61 544.27,180.07 545.40,178.94" fill="none" stroke="url(#g13)" stroke-width="1.15" stroke-linecap="round" stroke-linejoin="round"/>
<path d="M454.80,214.71C455.86,213.73 458.65,211.07 461.14,208.80C463.63,206.54 467.28,201.88 469.75,201.12C472.22,200.37 474.00,203.38 475.94,204.27C477.88,205.17 478.93,206.13 481.38,206.50C483.82,206.87 487.49,206.37 490.59,206.50C493.68,206.63 496.85,207.19 499.95,207.27C503.04,207.34 506.06,206.91 509.16,206.96C512.26,207.01 516.26,207.64 518.52,207.57C520.79,207.51 520.81,207.22 522.75,206.58C524.69,205.94 527.51,203.24 530.15,203.73C532.79,204.23 536.06,207.74 538.61,209.57C541.15,211.40 544.27,213.86 545.40,214.71" fill="none" stroke="#8383ff" stroke-width="1.15" stroke-linecap="round" stroke-linejoin="round"/>
<path d="M454.80,226.54C455.86,225.90 458.65,223.72 461.14,222.70C463.63,221.68 466.91,220.40 469.75,220.40C472.59,220.40 475.51,221.42 478.20,222.70C480.90,223.98 483.31,227.36 485.91,228.07C488.50,228.79 491.42,227.08 493.76,227.00C496.10,226.92 498.16,227.61 499.95,227.61C501.74,227.61 501.64,228.20 504.48,227.00C507.32,225.80 512.73,222.60 517.01,220.40C521.29,218.19 526.55,214.18 530.15,213.79C533.75,213.41 536.06,216.29 538.61,218.09C541.15,219.90 544.27,223.53 545.40,224.62" fill="none" stroke="#ff5050" stroke-width="1.15" stroke-linecap="round" stroke-linejoin="round"/>
<path d="M454.80,229.61C455.86,230.76 458.65,233.70 461.14,236.52C463.63,239.33 466.91,246.24 469.75,246.50C472.59,246.76 475.36,240.68 478.20,238.05C481.05,235.43 484.50,231.78 486.81,230.76C489.13,229.74 489.91,231.52 492.10,231.91C494.29,232.31 497.11,232.76 499.95,233.14C502.79,233.52 506.32,233.14 509.16,234.22C512.00,235.29 514.50,237.54 517.01,239.59C519.53,241.64 522.07,244.07 524.26,246.50C526.45,248.93 527.76,251.17 530.15,254.18C532.54,257.18 536.06,261.54 538.61,264.54C541.15,267.55 544.27,270.94 545.40,272.22" fill="none" stroke="#ff4545" stroke-width="1.15" stroke-linecap="round" stroke-linejoin="round"/>
<path d="M454.80,272.22C455.56,271.39 457.82,269.09 459.33,267.23C460.84,265.37 462.12,263.26 463.86,261.09C465.60,258.91 467.99,254.56 469.75,254.18C471.51,253.79 472.49,257.31 474.43,258.78C476.37,260.26 478.68,262.18 481.38,263.01C484.07,263.84 487.49,263.19 490.59,263.78C493.68,264.36 496.58,266.54 499.95,266.54C503.32,266.54 507.47,264.29 510.82,263.78C514.17,263.26 517.72,263.98 520.03,263.47C522.35,262.96 523.03,262.25 524.71,260.70C526.40,259.16 527.83,257.18 530.15,254.18C532.46,251.17 536.06,246.42 538.61,242.66C541.15,238.90 544.27,233.45 545.40,231.61" fill="none" stroke="#ff4545" stroke-width="1.15" stroke-linecap="round" stroke-linejoin="round"/>
<path d="M509.91,317.14C510.82,316.11 513.41,312.78 515.35,310.99C517.29,309.20 519.08,307.46 521.54,306.39C524.01,305.31 527.56,304.98 530.15,304.54C532.74,304.11 534.55,304.11 537.10,303.78C539.64,303.44 544.02,302.75 545.40,302.55" fill="none" stroke="#3131ff" stroke-width="1.15" stroke-linecap="round" stroke-linejoin="round"/>
<path d="M525.77,305.24C526.50,305.15 528.26,304.56 530.15,304.70C532.04,304.84 534.55,305.36 537.10,306.08C539.64,306.80 544.02,308.51 545.40,309.00" fill="none" stroke="#3131ff" stroke-width="1.15" stroke-linecap="round" stroke-linejoin="round"/>
<path d="M454.80,302.55C457.29,302.55 466.35,302.42 469.75,302.55C473.15,302.68 473.00,302.42 475.19,303.32C477.37,304.21 480.24,305.62 482.89,307.92C485.53,310.23 489.68,315.60 491.04,317.14" fill="none" stroke="#3131ff" stroke-width="1.15" stroke-linecap="round" stroke-linejoin="round"/>
<path d="M454.80,308.69C457.29,308.31 465.60,306.26 469.75,306.39C473.90,306.51 476.42,307.67 479.72,309.46C483.01,311.25 487.89,315.86 489.53,317.14" fill="none" stroke="#3131ff" stroke-width="1.15" stroke-linecap="round" stroke-linejoin="round"/>
<path d="M521.24,316.37C521.82,316.11 523.23,315.32 524.71,314.83C526.20,314.35 526.70,313.65 530.15,313.45C533.60,313.25 542.86,313.58 545.40,313.60" fill="none" stroke="#ff6e6e" stroke-width="1.15" stroke-linecap="round" stroke-linejoin="round"/>
<path d="M454.80,313.60C457.29,313.42 466.35,312.58 469.75,312.53C473.15,312.48 473.15,312.66 475.19,313.30C477.22,313.94 480.85,315.86 481.98,316.37" fill="none" stroke="#ff3b3b" stroke-width="1.15" stroke-linecap="round" stroke-linejoin="round"/>
</g>
<text x="464.30" y="238.20" font-size="4.29" font-weight="bold" fill="#9a1cff" font-family="'Liberation Sans', sans-serif">1</text>
<text x="466.78" y="241.20" font-size="6.70" font-weight="bold" fill="#9a1cff" font-family="'Liberation Sans', sans-serif">E</text>
<text x="471.35" y="242.80" font-size="4.29" font-weight="bold" fill="#9a1cff" font-family="'Liberation Sans', sans-serif">1/2</text>
<text x="465.00" y="265.40" font-size="4.29" font-weight="bold" fill="#9a1cff" font-family="'Liberation Sans', sans-serif">2</text>
<text x="467.48" y="268.40" font-size="6.70" font-weight="bold" fill="#9a1cff" font-family="'Liberation Sans', sans-serif">E</text>
<text x="472.05" y="270.00" font-size="4.29" font-weight="bold" fill="#9a1cff" font-family="'Liberation Sans', sans-serif">1/2</text>
<rect x="487.00" y="272.10" width="25.40" height="25.10" fill="#fff" stroke="#c4c4c4" stroke-width="0.7"/>
<path d="M504.00,288.06L505.85,284.85L507.70,288.06Z" fill="#d5ebce"/>
<path d="M501.55,277.40L497.85,277.40L499.70,274.20Z" fill="#d5ebce"/>
<path d="M493.55,284.85L495.40,288.06L491.70,288.06Z" fill="#d5ebce"/>
<path d="M495.40,288.06L504.00,288.06L499.70,295.50Z" fill="#7f9ed9"/>
<path d="M505.85,284.85L501.55,277.40L510.15,277.40Z" fill="#7f9ed9"/>
<path d="M497.85,277.40L493.55,284.85L489.25,277.40Z" fill="#7f9ed9"/>
<text transform="translate(515.90,285.70) scale(1.13,1)" font-size="6.5" font-weight="bold" letter-spacing="0.05" fill="#1e1e1e" font-family="'Liberation Serif', serif">κ = 0.59</text>
<g clip-path="url(#cp14)">
<path d="M592.50,194.52C593.51,193.61 596.04,190.72 598.56,189.09C601.09,187.46 604.75,184.94 607.65,184.74C610.55,184.55 613.71,186.55 615.98,187.92C618.25,189.29 619.59,191.70 621.28,192.97C622.98,194.23 624.37,195.35 626.13,195.53C627.90,195.71 630.07,194.41 631.89,194.05C633.71,193.69 634.82,193.54 637.04,193.35C639.26,193.17 642.19,193.95 645.22,192.97C648.25,191.98 652.65,189.14 655.22,187.46C657.80,185.78 658.55,184.17 660.67,182.88C662.80,181.59 665.42,179.51 667.95,179.70C670.47,179.89 673.25,181.91 675.82,184.04C678.40,186.18 682.14,191.09 683.40,192.50" fill="none" stroke="#ff0000" stroke-width="1.15" stroke-linecap="round" stroke-linejoin="round"/>
<path d="M592.50,194.52C594.01,195.88 598.94,200.69 601.59,202.66C604.24,204.64 605.88,206.39 608.41,206.39C610.93,206.39 614.59,203.74 616.74,202.66C618.89,201.59 619.72,200.76 621.28,199.95C622.85,199.13 624.37,198.24 626.13,197.78C627.90,197.31 630.07,197.25 631.89,197.16C633.71,197.07 634.44,196.77 637.04,197.23C639.64,197.70 643.93,197.94 647.49,199.95C651.05,201.95 654.99,206.74 658.40,209.26C661.81,211.78 664.84,215.35 667.95,215.08C671.05,214.81 674.46,210.55 677.04,207.63C679.61,204.71 682.34,199.23 683.40,197.54" fill="none" stroke="url(#g14)" stroke-width="1.15" stroke-linecap="round" stroke-linejoin="round"/>
<path d="M592.50,217.72C593.69,216.94 597.10,214.30 599.62,213.06C602.15,211.82 605.33,210.66 607.65,210.27C609.97,209.88 610.76,210.18 613.56,210.73C616.36,211.29 620.48,212.50 624.47,213.60C628.46,214.70 633.38,217.24 637.50,217.33C641.61,217.42 645.17,215.25 649.16,214.15C653.15,213.05 658.23,211.75 661.43,210.73C664.64,209.71 666.08,207.75 668.40,208.02C670.72,208.29 672.87,210.75 675.37,212.36C677.87,213.98 682.06,216.82 683.40,217.72" fill="none" stroke="url(#g15)" stroke-width="1.15" stroke-linecap="round" stroke-linejoin="round"/>
<path d="M592.50,268.61C593.51,267.58 596.79,264.21 598.56,262.40C600.33,260.59 601.59,258.98 603.11,257.75C604.62,256.52 605.88,254.84 607.65,255.03C609.42,255.23 611.69,257.68 613.71,258.91C615.73,260.14 617.22,261.05 619.77,262.40C622.32,263.76 626.06,265.64 629.01,267.06C631.97,268.48 634.67,270.86 637.50,270.94C640.32,271.02 643.03,268.69 645.98,267.52C648.93,266.36 652.90,265.00 655.22,263.96C657.54,262.91 658.38,262.34 659.92,261.24C661.46,260.14 663.07,258.40 664.46,257.36C665.85,256.33 666.99,254.84 668.25,255.03C669.51,255.23 670.57,256.91 672.04,258.52C673.50,260.14 675.14,262.97 677.04,264.73C678.93,266.49 682.34,268.35 683.40,269.08" fill="none" stroke="#ff0000" stroke-width="1.15" stroke-linecap="round" stroke-linejoin="round"/>
<path d="M622.04,317.88C622.65,317.13 624.14,315.30 625.68,313.38C627.22,311.45 629.54,308.44 631.28,306.32C633.03,304.20 635.02,301.71 636.13,300.65C637.24,299.59 637.34,299.93 637.95,299.95C638.56,299.98 638.76,300.02 639.77,300.81C640.78,301.60 642.37,303.72 644.01,304.69C645.65,305.66 647.27,305.77 649.62,306.63C651.96,307.48 654.99,308.16 658.10,309.81C661.21,311.45 665.19,316.08 668.25,316.48C671.31,316.88 673.91,313.44 676.43,312.21C678.96,310.98 682.24,309.63 683.40,309.11" fill="none" stroke="#0000ff" stroke-width="1.15" stroke-linecap="round" stroke-linejoin="round"/>
<path d="M592.50,309.11C593.66,309.63 596.94,310.98 599.47,312.21C601.99,313.44 605.02,316.31 607.65,316.48C610.28,316.65 612.70,314.28 615.23,313.22C617.75,312.16 620.53,310.83 622.80,310.12C625.07,309.41 626.34,309.21 628.86,308.95C631.38,308.70 635.17,308.24 637.95,308.57C640.73,308.89 642.75,309.34 645.52,310.89C648.30,312.44 653.10,316.71 654.62,317.88" fill="none" stroke="#0000ff" stroke-width="1.15" stroke-linecap="round" stroke-linejoin="round"/>
<path d="M622.80,317.88C623.30,317.81 624.69,317.62 625.83,317.49C626.97,317.36 628.56,317.55 629.62,317.10C630.68,316.65 631.31,315.87 632.19,314.77C633.08,313.67 634.14,311.60 634.92,310.51C635.70,309.41 636.38,308.66 636.89,308.18C637.39,307.70 637.60,307.63 637.95,307.63C638.30,307.63 638.51,307.70 639.01,308.18C639.52,308.66 640.20,309.41 640.98,310.51C641.76,311.60 642.82,313.29 643.71,314.77C644.59,316.26 645.85,318.65 646.28,319.43" fill="none" stroke="url(#g16)" stroke-width="1.15" stroke-linecap="round" stroke-linejoin="round"/>
</g>
<line x1="607.80" y1="214.50" x2="607.80" y2="228.20" stroke="#9a9a9a" stroke-width="0.6"/>
<line x1="607.80" y1="236.40" x2="607.80" y2="250.00" stroke="#9a9a9a" stroke-width="0.6"/>
<path d="M607.80,212.80 L606.60,215.36 L609.00,215.36Z" fill="#222"/>
<path d="M607.80,254.40 L606.60,251.84 L609.00,251.84Z" fill="#222"/>
<line x1="601.00" y1="255.30" x2="615.40" y2="255.30" stroke="#555" stroke-width="0.8"/>
<text x="610.30" y="219.30" font-size="4.29" font-weight="bold" fill="#9a1cff" font-family="'Liberation Sans', sans-serif">1</text>
<text x="612.78" y="222.30" font-size="6.70" font-weight="bold" fill="#9a1cff" font-family="'Liberation Sans', sans-serif">E</text>
<text x="617.35" y="223.90" font-size="4.29" font-weight="bold" fill="#9a1cff" font-family="'Liberation Sans', sans-serif">1/2</text>
<rect x="597.2" y="229.0" width="27.6" height="7.2" fill="#fff"/>
<text x="597.60" y="235.00" font-size="6.6" text-anchor="start" fill="#262626" font-family="'Liberation Sans', sans-serif" >0.571 eV</text>
<line x1="668.20" y1="217.50" x2="668.20" y2="228.20" stroke="#9a9a9a" stroke-width="0.6"/>
<line x1="668.20" y1="236.40" x2="668.20" y2="250.00" stroke="#9a9a9a" stroke-width="0.6"/>
<path d="M668.20,216.20 L667.00,218.76 L669.40,218.76Z" fill="#222"/>
<path d="M668.20,254.40 L667.00,251.84 L669.40,251.84Z" fill="#222"/>
<line x1="661.20" y1="215.50" x2="676.00" y2="215.50" stroke="#555" stroke-width="0.8"/>
<line x1="661.20" y1="255.30" x2="676.00" y2="255.30" stroke="#555" stroke-width="0.8"/>
<text x="657.70" y="224.50" font-size="6.70" font-weight="bold" fill="#9a1cff" font-family="'Liberation Sans', sans-serif">A</text>
<text x="662.64" y="226.10" font-size="4.29" font-weight="bold" fill="#9a1cff" font-family="'Liberation Sans', sans-serif">3/2</text>
<rect x="654.8" y="229.0" width="27.6" height="7.2" fill="#fff"/>
<text x="655.20" y="235.00" font-size="6.6" text-anchor="start" fill="#262626" font-family="'Liberation Sans', sans-serif" >0.523 eV</text>
<text x="603.50" y="263.60" font-size="4.29" font-weight="bold" fill="#9a1cff" font-family="'Liberation Sans', sans-serif">2</text>
<text x="605.98" y="266.60" font-size="6.70" font-weight="bold" fill="#9a1cff" font-family="'Liberation Sans', sans-serif">E</text>
<text x="610.55" y="268.20" font-size="4.29" font-weight="bold" fill="#9a1cff" font-family="'Liberation Sans', sans-serif">1/2</text>
<text x="664.50" y="263.80" font-size="4.29" font-weight="bold" fill="#9a1cff" font-family="'Liberation Sans', sans-serif">2</text>
<text x="666.98" y="266.80" font-size="6.70" font-weight="bold" fill="#9a1cff" font-family="'Liberation Sans', sans-serif">E</text>
<text x="671.55" y="268.40" font-size="4.29" font-weight="bold" fill="#9a1cff" font-family="'Liberation Sans', sans-serif">1/2</text>
<rect x="625.80" y="273.30" width="25.80" height="25.20" fill="#fff" stroke="#c4c4c4" stroke-width="0.7"/>
<path d="M643.90,289.16L645.30,286.73L646.70,289.16Z" fill="#d5ebce"/>
<path d="M640.10,277.72L637.30,277.72L638.70,275.30Z" fill="#d5ebce"/>
<path d="M632.10,286.73L633.50,289.16L630.70,289.16Z" fill="#d5ebce"/>
<path d="M633.50,289.16L643.90,289.16L638.70,298.16Z" fill="#7f9ed9"/>
<path d="M645.30,286.73L640.10,277.72L650.50,277.72Z" fill="#7f9ed9"/>
<path d="M637.30,277.72L632.10,286.73L626.90,277.72Z" fill="#7f9ed9"/>
<text transform="translate(656.00,286.10) scale(1.13,1)" font-size="6.5" font-weight="bold" letter-spacing="0.05" fill="#1e1e1e" font-family="'Liberation Serif', serif">κ = 1</text>
<rect x="34.60" y="3.45" width="90.90" height="138.85" fill="none" stroke="#333" stroke-width="1"/>
<line x1="32.00" y1="3.45" x2="34.60" y2="3.45" stroke="#333" stroke-width="0.9"/>
<text x="30.40" y="5.70" text-anchor="end" font-size="6.4" fill="#1e1e1e" font-family="'Liberation Sans', sans-serif">1.0</text>
<line x1="32.00" y1="18.88" x2="34.60" y2="18.88" stroke="#333" stroke-width="0.9"/>
<text x="30.40" y="21.13" text-anchor="end" font-size="6.4" fill="#1e1e1e" font-family="'Liberation Sans', sans-serif">0.8</text>
<line x1="32.00" y1="34.31" x2="34.60" y2="34.31" stroke="#333" stroke-width="0.9"/>
<text x="30.40" y="36.56" text-anchor="end" font-size="6.4" fill="#1e1e1e" font-family="'Liberation Sans', sans-serif">0.6</text>
<line x1="32.00" y1="49.73" x2="34.60" y2="49.73" stroke="#333" stroke-width="0.9"/>
<text x="30.40" y="51.98" text-anchor="end" font-size="6.4" fill="#1e1e1e" font-family="'Liberation Sans', sans-serif">0.4</text>
<line x1="32.00" y1="65.16" x2="34.60" y2="65.16" stroke="#333" stroke-width="0.9"/>
<text x="30.40" y="67.41" text-anchor="end" font-size="6.4" fill="#1e1e1e" font-family="'Liberation Sans', sans-serif">0.2</text>
<line x1="32.00" y1="80.59" x2="34.60" y2="80.59" stroke="#333" stroke-width="0.9"/>
<text x="30.40" y="82.84" text-anchor="end" font-size="6.4" fill="#1e1e1e" font-family="'Liberation Sans', sans-serif">0.0</text>
<line x1="32.00" y1="96.02" x2="34.60" y2="96.02" stroke="#333" stroke-width="0.9"/>
<text x="30.40" y="98.27" text-anchor="end" font-size="6.4" fill="#1e1e1e" font-family="'Liberation Sans', sans-serif">−0.2</text>
<line x1="32.00" y1="111.44" x2="34.60" y2="111.44" stroke="#333" stroke-width="0.9"/>
<text x="30.40" y="113.69" text-anchor="end" font-size="6.4" fill="#1e1e1e" font-family="'Liberation Sans', sans-serif">−0.4</text>
<line x1="32.00" y1="126.87" x2="34.60" y2="126.87" stroke="#333" stroke-width="0.9"/>
<text x="30.40" y="129.12" text-anchor="end" font-size="6.4" fill="#1e1e1e" font-family="'Liberation Sans', sans-serif">−0.6</text>
<line x1="32.00" y1="142.30" x2="34.60" y2="142.30" stroke="#333" stroke-width="0.9"/>
<text x="30.40" y="144.55" text-anchor="end" font-size="6.4" fill="#1e1e1e" font-family="'Liberation Sans', sans-serif">−0.8</text>
<text x="34.80" y="150.10" text-anchor="middle" font-size="7.7" fill="#1a1a1a" font-family="'Liberation Sans', sans-serif">M</text>
<text x="51.15" y="150.10" text-anchor="middle" font-size="7.7" fill="#1a1a1a" font-family="'Liberation Sans', sans-serif">K+</text>
<text x="81.05" y="150.10" text-anchor="middle" font-size="7.7" fill="#1a1a1a" font-family="'Liberation Sans', sans-serif">Γ</text>
<text x="111.15" y="150.10" text-anchor="middle" font-size="7.7" fill="#1a1a1a" font-family="'Liberation Sans', sans-serif">K-</text>
<text x="125.60" y="150.10" text-anchor="middle" font-size="7.7" fill="#1a1a1a" font-family="'Liberation Sans', sans-serif">M</text>
<text x="12.60" y="72.88" transform="rotate(-90 12.60 72.88)" text-anchor="middle" dominant-baseline="central" font-size="7.3" fill="#1e1e1e" font-family="'Liberation Sans', sans-serif">Energy (eV)</text>
<text x="2.6" y="7.6" font-size="11" fill="#1a1a1a" font-family="'Liberation Sans', sans-serif">(a)</text>
<rect x="177.50" y="4.40" width="89.70" height="137.90" fill="none" stroke="#333" stroke-width="1"/>
<line x1="174.90" y1="4.40" x2="177.50" y2="4.40" stroke="#333" stroke-width="0.9"/>
<text x="173.30" y="6.65" text-anchor="end" font-size="6.4" fill="#1e1e1e" font-family="'Liberation Sans', sans-serif">1.0</text>
<line x1="174.90" y1="19.72" x2="177.50" y2="19.72" stroke="#333" stroke-width="0.9"/>
<text x="173.30" y="21.97" text-anchor="end" font-size="6.4" fill="#1e1e1e" font-family="'Liberation Sans', sans-serif">0.8</text>
<line x1="174.90" y1="35.04" x2="177.50" y2="35.04" stroke="#333" stroke-width="0.9"/>
<text x="173.30" y="37.29" text-anchor="end" font-size="6.4" fill="#1e1e1e" font-family="'Liberation Sans', sans-serif">0.6</text>
<line x1="174.90" y1="50.37" x2="177.50" y2="50.37" stroke="#333" stroke-width="0.9"/>
<text x="173.30" y="52.62" text-anchor="end" font-size="6.4" fill="#1e1e1e" font-family="'Liberation Sans', sans-serif">0.4</text>
<line x1="174.90" y1="65.69" x2="177.50" y2="65.69" stroke="#333" stroke-width="0.9"/>
<text x="173.30" y="67.94" text-anchor="end" font-size="6.4" fill="#1e1e1e" font-family="'Liberation Sans', sans-serif">0.2</text>
<line x1="174.90" y1="81.01" x2="177.50" y2="81.01" stroke="#333" stroke-width="0.9"/>
<text x="173.30" y="83.26" text-anchor="end" font-size="6.4" fill="#1e1e1e" font-family="'Liberation Sans', sans-serif">0.0</text>
<line x1="174.90" y1="96.33" x2="177.50" y2="96.33" stroke="#333" stroke-width="0.9"/>
<text x="173.30" y="98.58" text-anchor="end" font-size="6.4" fill="#1e1e1e" font-family="'Liberation Sans', sans-serif">−0.2</text>
<line x1="174.90" y1="111.66" x2="177.50" y2="111.66" stroke="#333" stroke-width="0.9"/>
<text x="173.30" y="113.91" text-anchor="end" font-size="6.4" fill="#1e1e1e" font-family="'Liberation Sans', sans-serif">−0.4</text>
<line x1="174.90" y1="126.98" x2="177.50" y2="126.98" stroke="#333" stroke-width="0.9"/>
<text x="173.30" y="129.23" text-anchor="end" font-size="6.4" fill="#1e1e1e" font-family="'Liberation Sans', sans-serif">−0.6</text>
<line x1="174.90" y1="142.30" x2="177.50" y2="142.30" stroke="#333" stroke-width="0.9"/>
<text x="173.30" y="144.55" text-anchor="end" font-size="6.4" fill="#1e1e1e" font-family="'Liberation Sans', sans-serif">−0.8</text>
<text x="177.70" y="150.10" text-anchor="middle" font-size="7.7" fill="#1a1a1a" font-family="'Liberation Sans', sans-serif">M</text>
<text x="193.85" y="150.10" text-anchor="middle" font-size="7.7" fill="#1a1a1a" font-family="'Liberation Sans', sans-serif">K+</text>
<text x="223.35" y="150.10" text-anchor="middle" font-size="7.7" fill="#1a1a1a" font-family="'Liberation Sans', sans-serif">Γ</text>
<text x="253.05" y="150.10" text-anchor="middle" font-size="7.7" fill="#1a1a1a" font-family="'Liberation Sans', sans-serif">K-</text>
<text x="267.30" y="150.10" text-anchor="middle" font-size="7.7" fill="#1a1a1a" font-family="'Liberation Sans', sans-serif">M</text>
<text x="155.50" y="73.35" transform="rotate(-90 155.50 73.35)" text-anchor="middle" dominant-baseline="central" font-size="7.3" fill="#1e1e1e" font-family="'Liberation Sans', sans-serif">Energy (eV)</text>
<text x="145.2" y="7.8" font-size="11" fill="#1a1a1a" font-family="'Liberation Sans', sans-serif">(b)</text>
<rect x="317.50" y="4.40" width="89.00" height="137.00" fill="none" stroke="#333" stroke-width="1"/>
<line x1="314.90" y1="4.40" x2="317.50" y2="4.40" stroke="#333" stroke-width="0.9"/>
<text x="313.30" y="6.65" text-anchor="end" font-size="6.4" fill="#1e1e1e" font-family="'Liberation Sans', sans-serif">1.0</text>
<line x1="314.90" y1="19.62" x2="317.50" y2="19.62" stroke="#333" stroke-width="0.9"/>
<text x="313.30" y="21.87" text-anchor="end" font-size="6.4" fill="#1e1e1e" font-family="'Liberation Sans', sans-serif">0.8</text>
<line x1="314.90" y1="34.84" x2="317.50" y2="34.84" stroke="#333" stroke-width="0.9"/>
<text x="313.30" y="37.09" text-anchor="end" font-size="6.4" fill="#1e1e1e" font-family="'Liberation Sans', sans-serif">0.6</text>
<line x1="314.90" y1="50.07" x2="317.50" y2="50.07" stroke="#333" stroke-width="0.9"/>
<text x="313.30" y="52.32" text-anchor="end" font-size="6.4" fill="#1e1e1e" font-family="'Liberation Sans', sans-serif">0.4</text>
<line x1="314.90" y1="65.29" x2="317.50" y2="65.29" stroke="#333" stroke-width="0.9"/>
<text x="313.30" y="67.54" text-anchor="end" font-size="6.4" fill="#1e1e1e" font-family="'Liberation Sans', sans-serif">0.2</text>
<line x1="314.90" y1="80.51" x2="317.50" y2="80.51" stroke="#333" stroke-width="0.9"/>
<text x="313.30" y="82.76" text-anchor="end" font-size="6.4" fill="#1e1e1e" font-family="'Liberation Sans', sans-serif">0.0</text>
<line x1="314.90" y1="95.73" x2="317.50" y2="95.73" stroke="#333" stroke-width="0.9"/>
<text x="313.30" y="97.98" text-anchor="end" font-size="6.4" fill="#1e1e1e" font-family="'Liberation Sans', sans-serif">−0.2</text>
<line x1="314.90" y1="110.96" x2="317.50" y2="110.96" stroke="#333" stroke-width="0.9"/>
<text x="313.30" y="113.21" text-anchor="end" font-size="6.4" fill="#1e1e1e" font-family="'Liberation Sans', sans-serif">−0.4</text>
<line x1="314.90" y1="126.18" x2="317.50" y2="126.18" stroke="#333" stroke-width="0.9"/>
<text x="313.30" y="128.43" text-anchor="end" font-size="6.4" fill="#1e1e1e" font-family="'Liberation Sans', sans-serif">−0.6</text>
<line x1="314.90" y1="141.40" x2="317.50" y2="141.40" stroke="#333" stroke-width="0.9"/>
<text x="313.30" y="143.65" text-anchor="end" font-size="6.4" fill="#1e1e1e" font-family="'Liberation Sans', sans-serif">−0.8</text>
<text x="317.70" y="149.20" text-anchor="middle" font-size="7.7" fill="#1a1a1a" font-family="'Liberation Sans', sans-serif">M</text>
<text x="333.73" y="149.20" text-anchor="middle" font-size="7.7" fill="#1a1a1a" font-family="'Liberation Sans', sans-serif">K+</text>
<text x="363.00" y="149.20" text-anchor="middle" font-size="7.7" fill="#1a1a1a" font-family="'Liberation Sans', sans-serif">Γ</text>
<text x="392.47" y="149.20" text-anchor="middle" font-size="7.7" fill="#1a1a1a" font-family="'Liberation Sans', sans-serif">K-</text>
<text x="406.60" y="149.20" text-anchor="middle" font-size="7.7" fill="#1a1a1a" font-family="'Liberation Sans', sans-serif">M</text>
<text x="295.50" y="72.90" transform="rotate(-90 295.50 72.90)" text-anchor="middle" dominant-baseline="central" font-size="7.3" fill="#1e1e1e" font-family="'Liberation Sans', sans-serif">Energy (eV)</text>
<text x="288.2" y="7.8" font-size="11" fill="#1a1a1a" font-family="'Liberation Sans', sans-serif">(c)</text>
<rect x="454.60" y="3.60" width="90.90" height="138.80" fill="none" stroke="#333" stroke-width="1"/>
<line x1="452.00" y1="3.60" x2="454.60" y2="3.60" stroke="#333" stroke-width="0.9"/>
<text x="450.40" y="5.85" text-anchor="end" font-size="6.4" fill="#1e1e1e" font-family="'Liberation Sans', sans-serif">1.0</text>
<line x1="452.00" y1="19.02" x2="454.60" y2="19.02" stroke="#333" stroke-width="0.9"/>
<text x="450.40" y="21.27" text-anchor="end" font-size="6.4" fill="#1e1e1e" font-family="'Liberation Sans', sans-serif">0.8</text>
<line x1="452.00" y1="34.44" x2="454.60" y2="34.44" stroke="#333" stroke-width="0.9"/>
<text x="450.40" y="36.69" text-anchor="end" font-size="6.4" fill="#1e1e1e" font-family="'Liberation Sans', sans-serif">0.6</text>
<line x1="452.00" y1="49.87" x2="454.60" y2="49.87" stroke="#333" stroke-width="0.9"/>
<text x="450.40" y="52.12" text-anchor="end" font-size="6.4" fill="#1e1e1e" font-family="'Liberation Sans', sans-serif">0.4</text>
<line x1="452.00" y1="65.29" x2="454.60" y2="65.29" stroke="#333" stroke-width="0.9"/>
<text x="450.40" y="67.54" text-anchor="end" font-size="6.4" fill="#1e1e1e" font-family="'Liberation Sans', sans-serif">0.2</text>
<line x1="452.00" y1="80.71" x2="454.60" y2="80.71" stroke="#333" stroke-width="0.9"/>
<text x="450.40" y="82.96" text-anchor="end" font-size="6.4" fill="#1e1e1e" font-family="'Liberation Sans', sans-serif">0.0</text>
<line x1="452.00" y1="96.13" x2="454.60" y2="96.13" stroke="#333" stroke-width="0.9"/>
<text x="450.40" y="98.38" text-anchor="end" font-size="6.4" fill="#1e1e1e" font-family="'Liberation Sans', sans-serif">−0.2</text>
<line x1="452.00" y1="111.56" x2="454.60" y2="111.56" stroke="#333" stroke-width="0.9"/>
<text x="450.40" y="113.81" text-anchor="end" font-size="6.4" fill="#1e1e1e" font-family="'Liberation Sans', sans-serif">−0.4</text>
<line x1="452.00" y1="126.98" x2="454.60" y2="126.98" stroke="#333" stroke-width="0.9"/>
<text x="450.40" y="129.23" text-anchor="end" font-size="6.4" fill="#1e1e1e" font-family="'Liberation Sans', sans-serif">−0.6</text>
<line x1="452.00" y1="142.40" x2="454.60" y2="142.40" stroke="#333" stroke-width="0.9"/>
<text x="450.40" y="144.65" text-anchor="end" font-size="6.4" fill="#1e1e1e" font-family="'Liberation Sans', sans-serif">−0.8</text>
<text x="454.80" y="150.20" text-anchor="middle" font-size="7.7" fill="#1a1a1a" font-family="'Liberation Sans', sans-serif">M</text>
<text x="471.15" y="150.20" text-anchor="middle" font-size="7.7" fill="#1a1a1a" font-family="'Liberation Sans', sans-serif">K+</text>
<text x="501.05" y="150.20" text-anchor="middle" font-size="7.7" fill="#1a1a1a" font-family="'Liberation Sans', sans-serif">Γ</text>
<text x="531.15" y="150.20" text-anchor="middle" font-size="7.7" fill="#1a1a1a" font-family="'Liberation Sans', sans-serif">K-</text>
<text x="545.60" y="150.20" text-anchor="middle" font-size="7.7" fill="#1a1a1a" font-family="'Liberation Sans', sans-serif">M</text>
<text x="432.60" y="73.00" transform="rotate(-90 432.60 73.00)" text-anchor="middle" dominant-baseline="central" font-size="7.3" fill="#1e1e1e" font-family="'Liberation Sans', sans-serif">Energy (eV)</text>
<text x="427.2" y="7.9" font-size="11" fill="#1a1a1a" font-family="'Liberation Sans', sans-serif">(d)</text>
<rect x="592.30" y="3.60" width="91.10" height="139.40" fill="none" stroke="#333" stroke-width="1"/>
<line x1="589.70" y1="3.60" x2="592.30" y2="3.60" stroke="#333" stroke-width="0.9"/>
<text x="588.10" y="5.85" text-anchor="end" font-size="6.4" fill="#1e1e1e" font-family="'Liberation Sans', sans-serif">1.0</text>
<line x1="589.70" y1="19.09" x2="592.30" y2="19.09" stroke="#333" stroke-width="0.9"/>
<text x="588.10" y="21.34" text-anchor="end" font-size="6.4" fill="#1e1e1e" font-family="'Liberation Sans', sans-serif">0.8</text>
<line x1="589.70" y1="34.58" x2="592.30" y2="34.58" stroke="#333" stroke-width="0.9"/>
<text x="588.10" y="36.83" text-anchor="end" font-size="6.4" fill="#1e1e1e" font-family="'Liberation Sans', sans-serif">0.6</text>
<line x1="589.70" y1="50.07" x2="592.30" y2="50.07" stroke="#333" stroke-width="0.9"/>
<text x="588.10" y="52.32" text-anchor="end" font-size="6.4" fill="#1e1e1e" font-family="'Liberation Sans', sans-serif">0.4</text>
<line x1="589.70" y1="65.56" x2="592.30" y2="65.56" stroke="#333" stroke-width="0.9"/>
<text x="588.10" y="67.81" text-anchor="end" font-size="6.4" fill="#1e1e1e" font-family="'Liberation Sans', sans-serif">0.2</text>
<line x1="589.70" y1="81.04" x2="592.30" y2="81.04" stroke="#333" stroke-width="0.9"/>
<text x="588.10" y="83.29" text-anchor="end" font-size="6.4" fill="#1e1e1e" font-family="'Liberation Sans', sans-serif">0.0</text>
<line x1="589.70" y1="96.53" x2="592.30" y2="96.53" stroke="#333" stroke-width="0.9"/>
<text x="588.10" y="98.78" text-anchor="end" font-size="6.4" fill="#1e1e1e" font-family="'Liberation Sans', sans-serif">−0.2</text>
<line x1="589.70" y1="112.02" x2="592.30" y2="112.02" stroke="#333" stroke-width="0.9"/>
<text x="588.10" y="114.27" text-anchor="end" font-size="6.4" fill="#1e1e1e" font-family="'Liberation Sans', sans-serif">−0.4</text>
<line x1="589.70" y1="127.51" x2="592.30" y2="127.51" stroke="#333" stroke-width="0.9"/>
<text x="588.10" y="129.76" text-anchor="end" font-size="6.4" fill="#1e1e1e" font-family="'Liberation Sans', sans-serif">−0.6</text>
<line x1="589.70" y1="143.00" x2="592.30" y2="143.00" stroke="#333" stroke-width="0.9"/>
<text x="588.10" y="145.25" text-anchor="end" font-size="6.4" fill="#1e1e1e" font-family="'Liberation Sans', sans-serif">−0.8</text>
<line x1="590.90" y1="11.34" x2="592.30" y2="11.34" stroke="#333" stroke-width="0.7"/>
<line x1="590.90" y1="26.83" x2="592.30" y2="26.83" stroke="#333" stroke-width="0.7"/>
<line x1="590.90" y1="42.32" x2="592.30" y2="42.32" stroke="#333" stroke-width="0.7"/>
<line x1="590.90" y1="57.81" x2="592.30" y2="57.81" stroke="#333" stroke-width="0.7"/>
<line x1="590.90" y1="73.30" x2="592.30" y2="73.30" stroke="#333" stroke-width="0.7"/>
<line x1="590.90" y1="88.79" x2="592.30" y2="88.79" stroke="#333" stroke-width="0.7"/>
<line x1="590.90" y1="104.28" x2="592.30" y2="104.28" stroke="#333" stroke-width="0.7"/>
<line x1="590.90" y1="119.77" x2="592.30" y2="119.77" stroke="#333" stroke-width="0.7"/>
<line x1="590.90" y1="135.26" x2="592.30" y2="135.26" stroke="#333" stroke-width="0.7"/>
<text x="592.50" y="150.80" text-anchor="middle" font-size="7.7" fill="#1a1a1a" font-family="'Liberation Sans', sans-serif">M</text>
<text x="608.88" y="150.80" text-anchor="middle" font-size="7.7" fill="#1a1a1a" font-family="'Liberation Sans', sans-serif">K+</text>
<text x="638.85" y="150.80" text-anchor="middle" font-size="7.7" fill="#1a1a1a" font-family="'Liberation Sans', sans-serif">Γ</text>
<text x="669.02" y="150.80" text-anchor="middle" font-size="7.7" fill="#1a1a1a" font-family="'Liberation Sans', sans-serif">K-</text>
<text x="683.50" y="150.80" text-anchor="middle" font-size="7.7" fill="#1a1a1a" font-family="'Liberation Sans', sans-serif">M</text>
<text x="570.30" y="73.30" transform="rotate(-90 570.30 73.30)" text-anchor="middle" dominant-baseline="central" font-size="7.3" fill="#1e1e1e" font-family="'Liberation Sans', sans-serif">Energy (eV)</text>
<text x="563.7" y="7.9" font-size="11" fill="#1a1a1a" font-family="'Liberation Sans', sans-serif">(e)</text>
<rect x="34.50" y="177.50" width="90.00" height="137.90" fill="none" stroke="#333" stroke-width="1"/>
<line x1="31.90" y1="177.50" x2="34.50" y2="177.50" stroke="#333" stroke-width="0.9"/>
<text x="30.30" y="179.75" text-anchor="end" font-size="6.4" fill="#1e1e1e" font-family="'Liberation Sans', sans-serif">1.0</text>
<line x1="31.90" y1="192.82" x2="34.50" y2="192.82" stroke="#333" stroke-width="0.9"/>
<text x="30.30" y="195.07" text-anchor="end" font-size="6.4" fill="#1e1e1e" font-family="'Liberation Sans', sans-serif">0.8</text>
<line x1="31.90" y1="208.14" x2="34.50" y2="208.14" stroke="#333" stroke-width="0.9"/>
<text x="30.30" y="210.39" text-anchor="end" font-size="6.4" fill="#1e1e1e" font-family="'Liberation Sans', sans-serif">0.6</text>
<line x1="31.90" y1="223.47" x2="34.50" y2="223.47" stroke="#333" stroke-width="0.9"/>
<text x="30.30" y="225.72" text-anchor="end" font-size="6.4" fill="#1e1e1e" font-family="'Liberation Sans', sans-serif">0.4</text>
<line x1="31.90" y1="238.79" x2="34.50" y2="238.79" stroke="#333" stroke-width="0.9"/>
<text x="30.30" y="241.04" text-anchor="end" font-size="6.4" fill="#1e1e1e" font-family="'Liberation Sans', sans-serif">0.2</text>
<line x1="31.90" y1="254.11" x2="34.50" y2="254.11" stroke="#333" stroke-width="0.9"/>
<text x="30.30" y="256.36" text-anchor="end" font-size="6.4" fill="#1e1e1e" font-family="'Liberation Sans', sans-serif">0.0</text>
<line x1="31.90" y1="269.43" x2="34.50" y2="269.43" stroke="#333" stroke-width="0.9"/>
<text x="30.30" y="271.68" text-anchor="end" font-size="6.4" fill="#1e1e1e" font-family="'Liberation Sans', sans-serif">−0.2</text>
<line x1="31.90" y1="284.76" x2="34.50" y2="284.76" stroke="#333" stroke-width="0.9"/>
<text x="30.30" y="287.01" text-anchor="end" font-size="6.4" fill="#1e1e1e" font-family="'Liberation Sans', sans-serif">−0.4</text>
<line x1="31.90" y1="300.08" x2="34.50" y2="300.08" stroke="#333" stroke-width="0.9"/>
<text x="30.30" y="302.33" text-anchor="end" font-size="6.4" fill="#1e1e1e" font-family="'Liberation Sans', sans-serif">−0.6</text>
<line x1="31.90" y1="315.40" x2="34.50" y2="315.40" stroke="#333" stroke-width="0.9"/>
<text x="30.30" y="317.65" text-anchor="end" font-size="6.4" fill="#1e1e1e" font-family="'Liberation Sans', sans-serif">−0.8</text>
<line x1="33.10" y1="185.16" x2="34.50" y2="185.16" stroke="#333" stroke-width="0.7"/>
<line x1="33.10" y1="200.48" x2="34.50" y2="200.48" stroke="#333" stroke-width="0.7"/>
<line x1="33.10" y1="215.81" x2="34.50" y2="215.81" stroke="#333" stroke-width="0.7"/>
<line x1="33.10" y1="231.13" x2="34.50" y2="231.13" stroke="#333" stroke-width="0.7"/>
<line x1="33.10" y1="246.45" x2="34.50" y2="246.45" stroke="#333" stroke-width="0.7"/>
<line x1="33.10" y1="261.77" x2="34.50" y2="261.77" stroke="#333" stroke-width="0.7"/>
<line x1="33.10" y1="277.09" x2="34.50" y2="277.09" stroke="#333" stroke-width="0.7"/>
<line x1="33.10" y1="292.42" x2="34.50" y2="292.42" stroke="#333" stroke-width="0.7"/>
<line x1="33.10" y1="307.74" x2="34.50" y2="307.74" stroke="#333" stroke-width="0.7"/>
<text x="34.70" y="323.20" text-anchor="middle" font-size="7.7" fill="#1a1a1a" font-family="'Liberation Sans', sans-serif">M</text>
<text x="50.90" y="323.20" text-anchor="middle" font-size="7.7" fill="#1a1a1a" font-family="'Liberation Sans', sans-serif">K+</text>
<text x="80.50" y="323.20" text-anchor="middle" font-size="7.7" fill="#1a1a1a" font-family="'Liberation Sans', sans-serif">Γ</text>
<text x="110.30" y="323.20" text-anchor="middle" font-size="7.7" fill="#1a1a1a" font-family="'Liberation Sans', sans-serif">K-</text>
<text x="124.60" y="323.20" text-anchor="middle" font-size="7.7" fill="#1a1a1a" font-family="'Liberation Sans', sans-serif">M</text>
<text x="12.50" y="246.45" transform="rotate(-90 12.50 246.45)" text-anchor="middle" dominant-baseline="central" font-size="7.3" fill="#1e1e1e" font-family="'Liberation Sans', sans-serif">Energy (eV)</text>
<text x="-1.0" y="179.0" font-size="11" fill="#1a1a1a" font-family="'Liberation Sans', sans-serif">(f)</text>
<rect x="177.50" y="176.60" width="90.10" height="138.80" fill="none" stroke="#333" stroke-width="1"/>
<line x1="174.90" y1="176.60" x2="177.50" y2="176.60" stroke="#333" stroke-width="0.9"/>
<text x="173.30" y="178.85" text-anchor="end" font-size="6.4" fill="#1e1e1e" font-family="'Liberation Sans', sans-serif">1.0</text>
<line x1="174.90" y1="192.02" x2="177.50" y2="192.02" stroke="#333" stroke-width="0.9"/>
<text x="173.30" y="194.27" text-anchor="end" font-size="6.4" fill="#1e1e1e" font-family="'Liberation Sans', sans-serif">0.8</text>
<line x1="174.90" y1="207.44" x2="177.50" y2="207.44" stroke="#333" stroke-width="0.9"/>
<text x="173.30" y="209.69" text-anchor="end" font-size="6.4" fill="#1e1e1e" font-family="'Liberation Sans', sans-serif">0.6</text>
<line x1="174.90" y1="222.87" x2="177.50" y2="222.87" stroke="#333" stroke-width="0.9"/>
<text x="173.30" y="225.12" text-anchor="end" font-size="6.4" fill="#1e1e1e" font-family="'Liberation Sans', sans-serif">0.4</text>
<line x1="174.90" y1="238.29" x2="177.50" y2="238.29" stroke="#333" stroke-width="0.9"/>
<text x="173.30" y="240.54" text-anchor="end" font-size="6.4" fill="#1e1e1e" font-family="'Liberation Sans', sans-serif">0.2</text>
<line x1="174.90" y1="253.71" x2="177.50" y2="253.71" stroke="#333" stroke-width="0.9"/>
<text x="173.30" y="255.96" text-anchor="end" font-size="6.4" fill="#1e1e1e" font-family="'Liberation Sans', sans-serif">0.0</text>
<line x1="174.90" y1="269.13" x2="177.50" y2="269.13" stroke="#333" stroke-width="0.9"/>
<text x="173.30" y="271.38" text-anchor="end" font-size="6.4" fill="#1e1e1e" font-family="'Liberation Sans', sans-serif">−0.2</text>
<line x1="174.90" y1="284.56" x2="177.50" y2="284.56" stroke="#333" stroke-width="0.9"/>
<text x="173.30" y="286.81" text-anchor="end" font-size="6.4" fill="#1e1e1e" font-family="'Liberation Sans', sans-serif">−0.4</text>
<line x1="174.90" y1="299.98" x2="177.50" y2="299.98" stroke="#333" stroke-width="0.9"/>
<text x="173.30" y="302.23" text-anchor="end" font-size="6.4" fill="#1e1e1e" font-family="'Liberation Sans', sans-serif">−0.6</text>
<line x1="174.90" y1="315.40" x2="177.50" y2="315.40" stroke="#333" stroke-width="0.9"/>
<text x="173.30" y="317.65" text-anchor="end" font-size="6.4" fill="#1e1e1e" font-family="'Liberation Sans', sans-serif">−0.8</text>
<text x="177.70" y="323.20" text-anchor="middle" font-size="7.7" fill="#1a1a1a" font-family="'Liberation Sans', sans-serif">M</text>
<text x="193.92" y="323.20" text-anchor="middle" font-size="7.7" fill="#1a1a1a" font-family="'Liberation Sans', sans-serif">K+</text>
<text x="223.55" y="323.20" text-anchor="middle" font-size="7.7" fill="#1a1a1a" font-family="'Liberation Sans', sans-serif">Γ</text>
<text x="253.38" y="323.20" text-anchor="middle" font-size="7.7" fill="#1a1a1a" font-family="'Liberation Sans', sans-serif">K-</text>
<text x="267.70" y="323.20" text-anchor="middle" font-size="7.7" fill="#1a1a1a" font-family="'Liberation Sans', sans-serif">M</text>
<text x="155.50" y="246.00" transform="rotate(-90 155.50 246.00)" text-anchor="middle" dominant-baseline="central" font-size="7.3" fill="#1e1e1e" font-family="'Liberation Sans', sans-serif">Energy (eV)</text>
<text x="139.0" y="179.0" font-size="11" fill="#1a1a1a" font-family="'Liberation Sans', sans-serif">(g)</text>
<rect x="317.50" y="176.90" width="89.00" height="136.40" fill="none" stroke="#333" stroke-width="1"/>
<line x1="314.90" y1="176.90" x2="317.50" y2="176.90" stroke="#333" stroke-width="0.9"/>
<text x="313.30" y="179.15" text-anchor="end" font-size="6.4" fill="#1e1e1e" font-family="'Liberation Sans', sans-serif">1.0</text>
<line x1="314.90" y1="192.06" x2="317.50" y2="192.06" stroke="#333" stroke-width="0.9"/>
<text x="313.30" y="194.31" text-anchor="end" font-size="6.4" fill="#1e1e1e" font-family="'Liberation Sans', sans-serif">0.8</text>
<line x1="314.90" y1="207.21" x2="317.50" y2="207.21" stroke="#333" stroke-width="0.9"/>
<text x="313.30" y="209.46" text-anchor="end" font-size="6.4" fill="#1e1e1e" font-family="'Liberation Sans', sans-serif">0.6</text>
<line x1="314.90" y1="222.37" x2="317.50" y2="222.37" stroke="#333" stroke-width="0.9"/>
<text x="313.30" y="224.62" text-anchor="end" font-size="6.4" fill="#1e1e1e" font-family="'Liberation Sans', sans-serif">0.4</text>
<line x1="314.90" y1="237.52" x2="317.50" y2="237.52" stroke="#333" stroke-width="0.9"/>
<text x="313.30" y="239.77" text-anchor="end" font-size="6.4" fill="#1e1e1e" font-family="'Liberation Sans', sans-serif">0.2</text>
<line x1="314.90" y1="252.68" x2="317.50" y2="252.68" stroke="#333" stroke-width="0.9"/>
<text x="313.30" y="254.93" text-anchor="end" font-size="6.4" fill="#1e1e1e" font-family="'Liberation Sans', sans-serif">0.0</text>
<line x1="314.90" y1="267.83" x2="317.50" y2="267.83" stroke="#333" stroke-width="0.9"/>
<text x="313.30" y="270.08" text-anchor="end" font-size="6.4" fill="#1e1e1e" font-family="'Liberation Sans', sans-serif">−0.2</text>
<line x1="314.90" y1="282.99" x2="317.50" y2="282.99" stroke="#333" stroke-width="0.9"/>
<text x="313.30" y="285.24" text-anchor="end" font-size="6.4" fill="#1e1e1e" font-family="'Liberation Sans', sans-serif">−0.4</text>
<line x1="314.90" y1="298.14" x2="317.50" y2="298.14" stroke="#333" stroke-width="0.9"/>
<text x="313.30" y="300.39" text-anchor="end" font-size="6.4" fill="#1e1e1e" font-family="'Liberation Sans', sans-serif">−0.6</text>
<line x1="314.90" y1="313.30" x2="317.50" y2="313.30" stroke="#333" stroke-width="0.9"/>
<text x="313.30" y="315.55" text-anchor="end" font-size="6.4" fill="#1e1e1e" font-family="'Liberation Sans', sans-serif">−0.8</text>
<text x="317.70" y="321.10" text-anchor="middle" font-size="7.7" fill="#1a1a1a" font-family="'Liberation Sans', sans-serif">M</text>
<text x="333.73" y="321.10" text-anchor="middle" font-size="7.7" fill="#1a1a1a" font-family="'Liberation Sans', sans-serif">K+</text>
<text x="363.00" y="321.10" text-anchor="middle" font-size="7.7" fill="#1a1a1a" font-family="'Liberation Sans', sans-serif">Γ</text>
<text x="392.47" y="321.10" text-anchor="middle" font-size="7.7" fill="#1a1a1a" font-family="'Liberation Sans', sans-serif">K-</text>
<text x="406.60" y="321.10" text-anchor="middle" font-size="7.7" fill="#1a1a1a" font-family="'Liberation Sans', sans-serif">M</text>
<text x="295.50" y="245.10" transform="rotate(-90 295.50 245.10)" text-anchor="middle" dominant-baseline="central" font-size="7.3" fill="#1e1e1e" font-family="'Liberation Sans', sans-serif">Energy (eV)</text>
<text x="284.6" y="179.0" font-size="11" fill="#1a1a1a" font-family="'Liberation Sans', sans-serif">(h)</text>
<rect x="454.80" y="177.40" width="90.60" height="138.20" fill="none" stroke="#333" stroke-width="1"/>
<line x1="452.20" y1="177.40" x2="454.80" y2="177.40" stroke="#333" stroke-width="0.9"/>
<text x="450.60" y="179.65" text-anchor="end" font-size="6.4" fill="#1e1e1e" font-family="'Liberation Sans', sans-serif">1.0</text>
<line x1="452.20" y1="192.76" x2="454.80" y2="192.76" stroke="#333" stroke-width="0.9"/>
<text x="450.60" y="195.01" text-anchor="end" font-size="6.4" fill="#1e1e1e" font-family="'Liberation Sans', sans-serif">0.8</text>
<line x1="452.20" y1="208.11" x2="454.80" y2="208.11" stroke="#333" stroke-width="0.9"/>
<text x="450.60" y="210.36" text-anchor="end" font-size="6.4" fill="#1e1e1e" font-family="'Liberation Sans', sans-serif">0.6</text>
<line x1="452.20" y1="223.47" x2="454.80" y2="223.47" stroke="#333" stroke-width="0.9"/>
<text x="450.60" y="225.72" text-anchor="end" font-size="6.4" fill="#1e1e1e" font-family="'Liberation Sans', sans-serif">0.4</text>
<line x1="452.20" y1="238.82" x2="454.80" y2="238.82" stroke="#333" stroke-width="0.9"/>
<text x="450.60" y="241.07" text-anchor="end" font-size="6.4" fill="#1e1e1e" font-family="'Liberation Sans', sans-serif">0.2</text>
<line x1="452.20" y1="254.18" x2="454.80" y2="254.18" stroke="#333" stroke-width="0.9"/>
<text x="450.60" y="256.43" text-anchor="end" font-size="6.4" fill="#1e1e1e" font-family="'Liberation Sans', sans-serif">0.0</text>
<line x1="452.20" y1="269.53" x2="454.80" y2="269.53" stroke="#333" stroke-width="0.9"/>
<text x="450.60" y="271.78" text-anchor="end" font-size="6.4" fill="#1e1e1e" font-family="'Liberation Sans', sans-serif">−0.2</text>
<line x1="452.20" y1="284.89" x2="454.80" y2="284.89" stroke="#333" stroke-width="0.9"/>
<text x="450.60" y="287.14" text-anchor="end" font-size="6.4" fill="#1e1e1e" font-family="'Liberation Sans', sans-serif">−0.4</text>
<line x1="452.20" y1="300.24" x2="454.80" y2="300.24" stroke="#333" stroke-width="0.9"/>
<text x="450.60" y="302.49" text-anchor="end" font-size="6.4" fill="#1e1e1e" font-family="'Liberation Sans', sans-serif">−0.6</text>
<line x1="452.20" y1="315.60" x2="454.80" y2="315.60" stroke="#333" stroke-width="0.9"/>
<text x="450.60" y="317.85" text-anchor="end" font-size="6.4" fill="#1e1e1e" font-family="'Liberation Sans', sans-serif">−0.8</text>
<text x="455.00" y="323.40" text-anchor="middle" font-size="7.7" fill="#1a1a1a" font-family="'Liberation Sans', sans-serif">M</text>
<text x="471.30" y="323.40" text-anchor="middle" font-size="7.7" fill="#1a1a1a" font-family="'Liberation Sans', sans-serif">K+</text>
<text x="501.10" y="323.40" text-anchor="middle" font-size="7.7" fill="#1a1a1a" font-family="'Liberation Sans', sans-serif">Γ</text>
<text x="531.10" y="323.40" text-anchor="middle" font-size="7.7" fill="#1a1a1a" font-family="'Liberation Sans', sans-serif">K-</text>
<text x="545.50" y="323.40" text-anchor="middle" font-size="7.7" fill="#1a1a1a" font-family="'Liberation Sans', sans-serif">M</text>
<text x="432.80" y="246.50" transform="rotate(-90 432.80 246.50)" text-anchor="middle" dominant-baseline="central" font-size="7.3" fill="#1e1e1e" font-family="'Liberation Sans', sans-serif">Energy (eV)</text>
<text x="424.3" y="179.0" font-size="11" fill="#1a1a1a" font-family="'Liberation Sans', sans-serif">(i)</text>
<rect x="592.50" y="177.45" width="90.90" height="139.65" fill="none" stroke="#333" stroke-width="1"/>
<line x1="589.90" y1="177.45" x2="592.50" y2="177.45" stroke="#333" stroke-width="0.9"/>
<text x="588.30" y="179.70" text-anchor="end" font-size="6.4" fill="#1e1e1e" font-family="'Liberation Sans', sans-serif">1.0</text>
<line x1="589.90" y1="192.97" x2="592.50" y2="192.97" stroke="#333" stroke-width="0.9"/>
<text x="588.30" y="195.22" text-anchor="end" font-size="6.4" fill="#1e1e1e" font-family="'Liberation Sans', sans-serif">0.8</text>
<line x1="589.90" y1="208.48" x2="592.50" y2="208.48" stroke="#333" stroke-width="0.9"/>
<text x="588.30" y="210.73" text-anchor="end" font-size="6.4" fill="#1e1e1e" font-family="'Liberation Sans', sans-serif">0.6</text>
<line x1="589.90" y1="224.00" x2="592.50" y2="224.00" stroke="#333" stroke-width="0.9"/>
<text x="588.30" y="226.25" text-anchor="end" font-size="6.4" fill="#1e1e1e" font-family="'Liberation Sans', sans-serif">0.4</text>
<line x1="589.90" y1="239.52" x2="592.50" y2="239.52" stroke="#333" stroke-width="0.9"/>
<text x="588.30" y="241.77" text-anchor="end" font-size="6.4" fill="#1e1e1e" font-family="'Liberation Sans', sans-serif">0.2</text>
<line x1="589.90" y1="255.03" x2="592.50" y2="255.03" stroke="#333" stroke-width="0.9"/>
<text x="588.30" y="257.28" text-anchor="end" font-size="6.4" fill="#1e1e1e" font-family="'Liberation Sans', sans-serif">0.0</text>
<line x1="589.90" y1="270.55" x2="592.50" y2="270.55" stroke="#333" stroke-width="0.9"/>
<text x="588.30" y="272.80" text-anchor="end" font-size="6.4" fill="#1e1e1e" font-family="'Liberation Sans', sans-serif">−0.2</text>
<line x1="589.90" y1="286.07" x2="592.50" y2="286.07" stroke="#333" stroke-width="0.9"/>
<text x="588.30" y="288.32" text-anchor="end" font-size="6.4" fill="#1e1e1e" font-family="'Liberation Sans', sans-serif">−0.4</text>
<line x1="589.90" y1="301.58" x2="592.50" y2="301.58" stroke="#333" stroke-width="0.9"/>
<text x="588.30" y="303.83" text-anchor="end" font-size="6.4" fill="#1e1e1e" font-family="'Liberation Sans', sans-serif">−0.6</text>
<line x1="589.90" y1="317.10" x2="592.50" y2="317.10" stroke="#333" stroke-width="0.9"/>
<text x="588.30" y="319.35" text-anchor="end" font-size="6.4" fill="#1e1e1e" font-family="'Liberation Sans', sans-serif">−0.8</text>
<text x="592.70" y="323.20" text-anchor="middle" font-size="7.7" fill="#1a1a1a" font-family="'Liberation Sans', sans-serif">M</text>
<text x="609.05" y="323.20" text-anchor="middle" font-size="7.7" fill="#1a1a1a" font-family="'Liberation Sans', sans-serif">K+</text>
<text x="638.95" y="323.20" text-anchor="middle" font-size="7.7" fill="#1a1a1a" font-family="'Liberation Sans', sans-serif">Γ</text>
<text x="669.05" y="323.20" text-anchor="middle" font-size="7.7" fill="#1a1a1a" font-family="'Liberation Sans', sans-serif">K-</text>
<text x="683.50" y="323.20" text-anchor="middle" font-size="7.7" fill="#1a1a1a" font-family="'Liberation Sans', sans-serif">M</text>
<text x="570.50" y="247.28" transform="rotate(-90 570.50 247.28)" text-anchor="middle" dominant-baseline="central" font-size="7.3" fill="#1e1e1e" font-family="'Liberation Sans', sans-serif">Energy (eV)</text>
<text x="566.3" y="179.0" font-size="11" fill="#1a1a1a" font-family="'Liberation Sans', sans-serif">(j)</text>
</svg>
</body></html>
